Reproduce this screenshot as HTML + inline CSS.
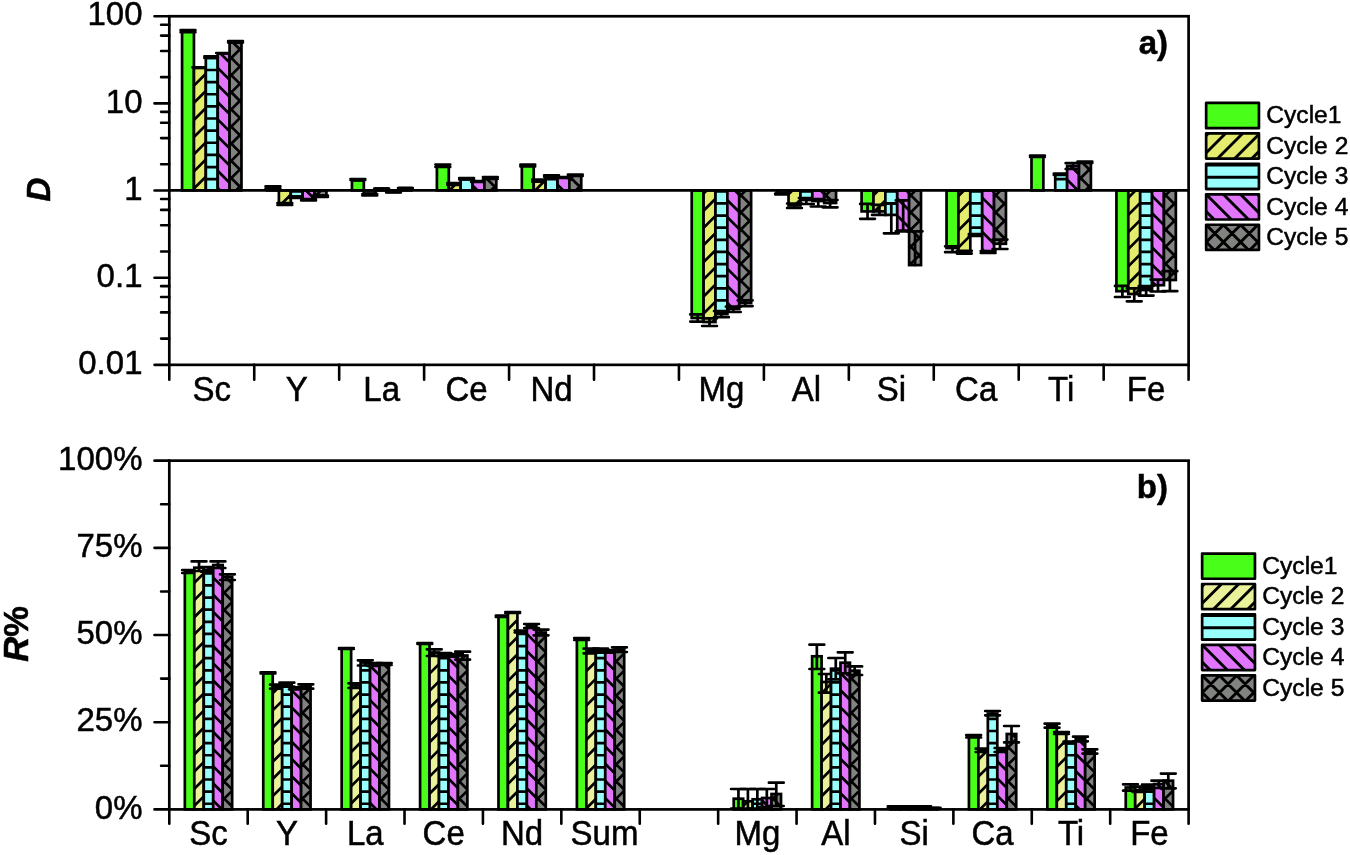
<!DOCTYPE html>
<html><head><meta charset="utf-8"><title>Figure</title>
<style>html,body{margin:0;padding:0;background:#fff}svg{display:block}</style></head>
<body>
<svg width="1350" height="855" viewBox="0 0 1350 855">
<rect width="1350" height="855" fill="#fff"/>
<rect x="182.07" y="31.50" width="11.88" height="158.90" fill="#49fe18"/>
<rect x="182.07" y="31.50" width="11.88" height="158.90" fill="none" stroke="#000" stroke-width="2.7"/>
<path d="M188.01 30.20V32.20M180.61 30.20H195.41M180.61 32.20H195.41" stroke="#000" stroke-width="2.7" fill="none" stroke-linecap="round"/>
<rect x="193.95" y="68.00" width="11.88" height="122.40" fill="#e3ec6c"/>
<clipPath id="a1"><rect x="193.95" y="68.00" width="11.88" height="122.40"/></clipPath>
<path d="M192.95 52.31L206.83 38.43M192.95 69.47L206.83 55.59M192.95 86.62L206.83 72.74M192.95 103.77L206.83 89.89M192.95 120.93L206.83 107.05M192.95 138.08L206.83 124.20M192.95 155.24L206.83 141.36M192.95 172.39L206.83 158.51M192.95 189.55L206.83 175.67M192.95 206.70L206.83 192.82" stroke="#000" stroke-width="2.7" fill="none" clip-path="url(#a1)"/>
<rect x="193.95" y="68.00" width="11.88" height="122.40" fill="none" stroke="#000" stroke-width="2.7"/>
<path d="M199.89 67.30V67.30M192.49 67.30H207.29M192.49 67.30H207.29" stroke="#000" stroke-width="2.7" fill="none" stroke-linecap="round"/>
<rect x="205.83" y="57.60" width="11.88" height="132.80" fill="#99fffc"/>
<clipPath id="a2"><rect x="205.83" y="57.60" width="11.88" height="132.80"/></clipPath>
<path d="M204.83 45.73H218.71M204.83 57.86H218.71M204.83 69.99H218.71M204.83 82.12H218.71M204.83 94.25H218.71M204.83 106.38H218.71M204.83 118.51H218.71M204.83 130.64H218.71M204.83 142.77H218.71M204.83 154.90H218.71M204.83 167.03H218.71M204.83 179.16H218.71M204.83 191.29H218.71" stroke="#000" stroke-width="2.7" fill="none" clip-path="url(#a2)"/>
<rect x="205.83" y="57.60" width="11.88" height="132.80" fill="none" stroke="#000" stroke-width="2.7"/>
<path d="M211.77 56.30V58.00M204.37 56.30H219.17M204.37 58.00H219.17" stroke="#000" stroke-width="2.7" fill="none" stroke-linecap="round"/>
<rect x="217.71" y="53.60" width="11.88" height="136.80" fill="#e176fc"/>
<clipPath id="a3"><rect x="217.71" y="53.60" width="11.88" height="136.80"/></clipPath>
<path d="M216.71 204.11L230.59 217.99M216.71 186.96L230.59 200.84M216.71 169.80L230.59 183.68M216.71 152.65L230.59 166.53M216.71 135.49L230.59 149.37M216.71 118.34L230.59 132.22M216.71 101.18L230.59 115.06M216.71 84.03L230.59 97.91M216.71 66.88L230.59 80.76M216.71 49.72L230.59 63.60M216.71 32.57L230.59 46.45" stroke="#000" stroke-width="2.7" fill="none" clip-path="url(#a3)"/>
<rect x="217.71" y="53.60" width="11.88" height="136.80" fill="none" stroke="#000" stroke-width="2.7"/>
<path d="M223.65 53.00V53.00M216.25 53.00H231.05M216.25 53.00H231.05" stroke="#000" stroke-width="2.7" fill="none" stroke-linecap="round"/>
<rect x="229.59" y="42.30" width="11.88" height="148.10" fill="#818381"/>
<clipPath id="a4"><rect x="229.59" y="42.30" width="11.88" height="148.10"/></clipPath>
<path d="M228.59 192.50L242.47 206.38M228.59 175.34L242.47 189.22M228.59 158.19L242.47 172.07M228.59 141.04L242.47 154.92M228.59 123.88L242.47 137.76M228.59 106.73L242.47 120.61M228.59 89.57L242.47 103.45M228.59 72.42L242.47 86.30M228.59 55.26L242.47 69.14M228.59 38.11L242.47 51.99M228.59 20.95L242.47 34.83M228.59 26.35L242.47 12.47M228.59 43.51L242.47 29.63M228.59 60.66L242.47 46.78M228.59 77.82L242.47 63.94M228.59 94.97L242.47 81.09M228.59 112.13L242.47 98.25M228.59 129.28L242.47 115.40M228.59 146.44L242.47 132.56M228.59 163.59L242.47 149.71M228.59 180.74L242.47 166.86M228.59 197.90L242.47 184.02M228.59 215.05L242.47 201.17" stroke="#000" stroke-width="2.7" fill="none" clip-path="url(#a4)"/>
<rect x="229.59" y="42.30" width="11.88" height="148.10" fill="none" stroke="#000" stroke-width="2.7"/>
<path d="M235.53 41.00V42.60M228.13 41.00H242.93M228.13 42.60H242.93" stroke="#000" stroke-width="2.7" fill="none" stroke-linecap="round"/>
<rect x="267.01" y="187.50" width="11.88" height="2.90" fill="#49fe18"/>
<rect x="267.01" y="187.50" width="11.88" height="2.90" fill="none" stroke="#000" stroke-width="2.7"/>
<path d="M272.95 186.30V188.50M265.55 186.30H280.35M265.55 188.50H280.35" stroke="#000" stroke-width="2.7" fill="none" stroke-linecap="round"/>
<rect x="278.89" y="190.40" width="11.88" height="13.10" fill="#e3ec6c"/>
<clipPath id="a5"><rect x="278.89" y="190.40" width="11.88" height="13.10"/></clipPath>
<path d="M277.89 190.38L291.77 176.50M277.89 207.53L291.77 193.65M277.89 224.69L291.77 210.81" stroke="#000" stroke-width="2.7" fill="none" clip-path="url(#a5)"/>
<rect x="278.89" y="190.40" width="11.88" height="13.10" fill="none" stroke="#000" stroke-width="2.7"/>
<path d="M284.83 203.00V205.00M277.43 203.00H292.23M277.43 205.00H292.23" stroke="#000" stroke-width="2.7" fill="none" stroke-linecap="round"/>
<rect x="290.77" y="190.40" width="11.88" height="6.10" fill="#99fffc"/>
<clipPath id="a6"><rect x="290.77" y="190.40" width="11.88" height="6.10"/></clipPath>
<path d="M289.77 179.16H303.65M289.77 191.29H303.65M289.77 203.42H303.65" stroke="#000" stroke-width="2.7" fill="none" clip-path="url(#a6)"/>
<rect x="290.77" y="190.40" width="11.88" height="6.10" fill="none" stroke="#000" stroke-width="2.7"/>
<path d="M296.71 196.50V198.00M289.31 196.50H304.11M289.31 198.00H304.11" stroke="#000" stroke-width="2.7" fill="none" stroke-linecap="round"/>
<rect x="302.65" y="190.40" width="11.88" height="9.10" fill="#e176fc"/>
<clipPath id="a7"><rect x="302.65" y="190.40" width="11.88" height="9.10"/></clipPath>
<path d="M301.65 203.28L315.53 217.16M301.65 186.13L315.53 200.01M301.65 168.97L315.53 182.85" stroke="#000" stroke-width="2.7" fill="none" clip-path="url(#a7)"/>
<rect x="302.65" y="190.40" width="11.88" height="9.10" fill="none" stroke="#000" stroke-width="2.7"/>
<path d="M308.59 199.00V200.50M301.19 199.00H315.99M301.19 200.50H315.99" stroke="#000" stroke-width="2.7" fill="none" stroke-linecap="round"/>
<rect x="314.53" y="190.40" width="11.88" height="5.10" fill="#818381"/>
<clipPath id="a8"><rect x="314.53" y="190.40" width="11.88" height="5.10"/></clipPath>
<path d="M313.53 209.65L327.41 223.53M313.53 192.50L327.41 206.38M313.53 175.34L327.41 189.22M313.53 180.74L327.41 166.86M313.53 197.90L327.41 184.02M313.53 215.05L327.41 201.17" stroke="#000" stroke-width="2.7" fill="none" clip-path="url(#a8)"/>
<rect x="314.53" y="190.40" width="11.88" height="5.10" fill="none" stroke="#000" stroke-width="2.7"/>
<path d="M320.47 195.50V197.00M313.07 195.50H327.87M313.07 197.00H327.87" stroke="#000" stroke-width="2.7" fill="none" stroke-linecap="round"/>
<rect x="351.95" y="180.50" width="11.88" height="9.90" fill="#49fe18"/>
<rect x="351.95" y="180.50" width="11.88" height="9.90" fill="none" stroke="#000" stroke-width="2.7"/>
<path d="M357.89 179.00V180.00M350.49 179.00H365.29M350.49 180.00H365.29" stroke="#000" stroke-width="2.7" fill="none" stroke-linecap="round"/>
<rect x="363.83" y="190.40" width="11.88" height="3.10" fill="#e3ec6c"/>
<clipPath id="a9"><rect x="363.83" y="190.40" width="11.88" height="3.10"/></clipPath>
<path d="M362.83 191.21L376.71 177.33M362.83 208.36L376.71 194.48" stroke="#000" stroke-width="2.7" fill="none" clip-path="url(#a9)"/>
<rect x="363.83" y="190.40" width="11.88" height="3.10" fill="none" stroke="#000" stroke-width="2.7"/>
<path d="M369.77 194.00V195.50M362.37 194.00H377.17M362.37 195.50H377.17" stroke="#000" stroke-width="2.7" fill="none" stroke-linecap="round"/>
<rect x="375.71" y="188.50" width="11.88" height="1.90" fill="#99fffc"/>
<clipPath id="a10"><rect x="375.71" y="188.50" width="11.88" height="1.90"/></clipPath>
<path d="M374.71 179.16H388.59M374.71 191.29H388.59" stroke="#000" stroke-width="2.7" fill="none" clip-path="url(#a10)"/>
<rect x="375.71" y="188.50" width="11.88" height="1.90" fill="none" stroke="#000" stroke-width="2.7"/>
<path d="M381.65 188.50V189.50M374.25 188.50H389.05M374.25 189.50H389.05" stroke="#000" stroke-width="2.7" fill="none" stroke-linecap="round"/>
<rect x="387.59" y="190.40" width="11.88" height="1.60" fill="#e176fc"/>
<clipPath id="a11"><rect x="387.59" y="190.40" width="11.88" height="1.60"/></clipPath>
<path d="M386.59 202.45L400.47 216.33M386.59 185.30L400.47 199.18M386.59 168.14L400.47 182.02" stroke="#000" stroke-width="2.7" fill="none" clip-path="url(#a11)"/>
<rect x="387.59" y="190.40" width="11.88" height="1.60" fill="none" stroke="#000" stroke-width="2.7"/>
<path d="M393.53 191.50V192.50M386.13 191.50H400.93M386.13 192.50H400.93" stroke="#000" stroke-width="2.7" fill="none" stroke-linecap="round"/>
<rect x="399.47" y="188.00" width="11.88" height="2.40" fill="#818381"/>
<clipPath id="a12"><rect x="399.47" y="188.00" width="11.88" height="2.40"/></clipPath>
<path d="M398.47 192.50L412.35 206.38M398.47 175.34L412.35 189.22M398.47 158.19L412.35 172.07M398.47 180.74L412.35 166.86M398.47 197.90L412.35 184.02M398.47 215.05L412.35 201.17" stroke="#000" stroke-width="2.7" fill="none" clip-path="url(#a12)"/>
<rect x="399.47" y="188.00" width="11.88" height="2.40" fill="none" stroke="#000" stroke-width="2.7"/>
<path d="M405.41 188.00V189.00M398.01 188.00H412.81M398.01 189.00H412.81" stroke="#000" stroke-width="2.7" fill="none" stroke-linecap="round"/>
<rect x="436.90" y="166.00" width="11.88" height="24.40" fill="#49fe18"/>
<rect x="436.90" y="166.00" width="11.88" height="24.40" fill="none" stroke="#000" stroke-width="2.7"/>
<path d="M442.84 164.50V167.00M435.44 164.50H450.24M435.44 167.00H450.24" stroke="#000" stroke-width="2.7" fill="none" stroke-linecap="round"/>
<rect x="448.78" y="184.00" width="11.88" height="6.40" fill="#e3ec6c"/>
<clipPath id="a13"><rect x="448.78" y="184.00" width="11.88" height="6.40"/></clipPath>
<path d="M447.78 174.88L461.66 161.00M447.78 192.04L461.66 178.16M447.78 209.19L461.66 195.31" stroke="#000" stroke-width="2.7" fill="none" clip-path="url(#a13)"/>
<rect x="448.78" y="184.00" width="11.88" height="6.40" fill="none" stroke="#000" stroke-width="2.7"/>
<path d="M454.72 183.00V184.80M447.32 183.00H462.12M447.32 184.80H462.12" stroke="#000" stroke-width="2.7" fill="none" stroke-linecap="round"/>
<rect x="460.66" y="179.00" width="11.88" height="11.40" fill="#99fffc"/>
<clipPath id="a14"><rect x="460.66" y="179.00" width="11.88" height="11.40"/></clipPath>
<path d="M459.66 167.03H473.54M459.66 179.16H473.54M459.66 191.29H473.54" stroke="#000" stroke-width="2.7" fill="none" clip-path="url(#a14)"/>
<rect x="460.66" y="179.00" width="11.88" height="11.40" fill="none" stroke="#000" stroke-width="2.7"/>
<path d="M466.60 178.00V179.50M459.20 178.00H474.00M459.20 179.50H474.00" stroke="#000" stroke-width="2.7" fill="none" stroke-linecap="round"/>
<rect x="472.54" y="181.50" width="11.88" height="8.90" fill="#e176fc"/>
<clipPath id="a15"><rect x="472.54" y="181.50" width="11.88" height="8.90"/></clipPath>
<path d="M471.54 201.62L485.42 215.50M471.54 184.47L485.42 198.35M471.54 167.31L485.42 181.19" stroke="#000" stroke-width="2.7" fill="none" clip-path="url(#a15)"/>
<rect x="472.54" y="181.50" width="11.88" height="8.90" fill="none" stroke="#000" stroke-width="2.7"/>
<path d="M478.48 181.00V182.00M471.08 181.00H485.88M471.08 182.00H485.88" stroke="#000" stroke-width="2.7" fill="none" stroke-linecap="round"/>
<rect x="484.42" y="178.00" width="11.88" height="12.40" fill="#818381"/>
<clipPath id="a16"><rect x="484.42" y="178.00" width="11.88" height="12.40"/></clipPath>
<path d="M483.42 192.50L497.30 206.38M483.42 175.34L497.30 189.22M483.42 158.19L497.30 172.07M483.42 163.59L497.30 149.71M483.42 180.74L497.30 166.86M483.42 197.90L497.30 184.02M483.42 215.05L497.30 201.17" stroke="#000" stroke-width="2.7" fill="none" clip-path="url(#a16)"/>
<rect x="484.42" y="178.00" width="11.88" height="12.40" fill="none" stroke="#000" stroke-width="2.7"/>
<path d="M490.36 177.00V179.00M482.96 177.00H497.76M482.96 179.00H497.76" stroke="#000" stroke-width="2.7" fill="none" stroke-linecap="round"/>
<rect x="521.84" y="165.70" width="11.88" height="24.70" fill="#49fe18"/>
<rect x="521.84" y="165.70" width="11.88" height="24.70" fill="none" stroke="#000" stroke-width="2.7"/>
<path d="M527.78 164.70V166.50M520.38 164.70H535.18M520.38 166.50H535.18" stroke="#000" stroke-width="2.7" fill="none" stroke-linecap="round"/>
<rect x="533.72" y="180.70" width="11.88" height="9.70" fill="#e3ec6c"/>
<clipPath id="a17"><rect x="533.72" y="180.70" width="11.88" height="9.70"/></clipPath>
<path d="M532.72 175.71L546.60 161.83M532.72 192.87L546.60 178.99M532.72 210.02L546.60 196.14" stroke="#000" stroke-width="2.7" fill="none" clip-path="url(#a17)"/>
<rect x="533.72" y="180.70" width="11.88" height="9.70" fill="none" stroke="#000" stroke-width="2.7"/>
<path d="M539.66 179.70V181.70M532.26 179.70H547.06M532.26 181.70H547.06" stroke="#000" stroke-width="2.7" fill="none" stroke-linecap="round"/>
<rect x="545.60" y="176.00" width="11.88" height="14.40" fill="#99fffc"/>
<clipPath id="a18"><rect x="545.60" y="176.00" width="11.88" height="14.40"/></clipPath>
<path d="M544.60 167.03H558.48M544.60 179.16H558.48M544.60 191.29H558.48" stroke="#000" stroke-width="2.7" fill="none" clip-path="url(#a18)"/>
<rect x="545.60" y="176.00" width="11.88" height="14.40" fill="none" stroke="#000" stroke-width="2.7"/>
<path d="M551.54 175.30V176.70M544.14 175.30H558.94M544.14 176.70H558.94" stroke="#000" stroke-width="2.7" fill="none" stroke-linecap="round"/>
<rect x="557.48" y="177.50" width="11.88" height="12.90" fill="#e176fc"/>
<clipPath id="a19"><rect x="557.48" y="177.50" width="11.88" height="12.90"/></clipPath>
<path d="M556.48 200.79L570.36 214.67M556.48 183.63L570.36 197.51M556.48 166.48L570.36 180.36M556.48 149.33L570.36 163.21" stroke="#000" stroke-width="2.7" fill="none" clip-path="url(#a19)"/>
<rect x="557.48" y="177.50" width="11.88" height="12.90" fill="none" stroke="#000" stroke-width="2.7"/>
<path d="M563.42 177.00V178.00M556.02 177.00H570.82M556.02 178.00H570.82" stroke="#000" stroke-width="2.7" fill="none" stroke-linecap="round"/>
<rect x="569.36" y="175.50" width="11.88" height="14.90" fill="#818381"/>
<clipPath id="a20"><rect x="569.36" y="175.50" width="11.88" height="14.90"/></clipPath>
<path d="M568.36 192.50L582.24 206.38M568.36 175.34L582.24 189.22M568.36 158.19L582.24 172.07M568.36 163.59L582.24 149.71M568.36 180.74L582.24 166.86M568.36 197.90L582.24 184.02M568.36 215.05L582.24 201.17" stroke="#000" stroke-width="2.7" fill="none" clip-path="url(#a20)"/>
<rect x="569.36" y="175.50" width="11.88" height="14.90" fill="none" stroke="#000" stroke-width="2.7"/>
<path d="M575.30 174.70V176.00M567.90 174.70H582.70M567.90 176.00H582.70" stroke="#000" stroke-width="2.7" fill="none" stroke-linecap="round"/>
<rect x="691.72" y="190.40" width="11.88" height="127.60" fill="#49fe18"/>
<rect x="691.72" y="190.40" width="11.88" height="127.60" fill="none" stroke="#000" stroke-width="2.7"/>
<path d="M697.66 314.40V321.60M690.26 314.40H705.06M690.26 321.60H705.06" stroke="#000" stroke-width="2.7" fill="none" stroke-linecap="round"/>
<rect x="703.60" y="190.40" width="11.88" height="131.60" fill="#e3ec6c"/>
<clipPath id="a21"><rect x="703.60" y="190.40" width="11.88" height="131.60"/></clipPath>
<path d="M702.60 177.37L716.48 163.49M702.60 194.53L716.48 180.65M702.60 211.68L716.48 197.80M702.60 228.84L716.48 214.96M702.60 245.99L716.48 232.11M702.60 263.15L716.48 249.27M702.60 280.30L716.48 266.42M702.60 297.45L716.48 283.57M702.60 314.61L716.48 300.73M702.60 331.76L716.48 317.88M702.60 348.92L716.48 335.04" stroke="#000" stroke-width="2.7" fill="none" clip-path="url(#a21)"/>
<rect x="703.60" y="190.40" width="11.88" height="131.60" fill="none" stroke="#000" stroke-width="2.7"/>
<path d="M709.54 318.30V326.00M702.14 318.30H716.94M702.14 326.00H716.94" stroke="#000" stroke-width="2.7" fill="none" stroke-linecap="round"/>
<rect x="715.48" y="190.40" width="11.88" height="123.60" fill="#99fffc"/>
<clipPath id="a22"><rect x="715.48" y="190.40" width="11.88" height="123.60"/></clipPath>
<path d="M714.48 179.16H728.36M714.48 191.29H728.36M714.48 203.42H728.36M714.48 215.55H728.36M714.48 227.68H728.36M714.48 239.81H728.36M714.48 251.94H728.36M714.48 264.07H728.36M714.48 276.20H728.36M714.48 288.33H728.36M714.48 300.46H728.36M714.48 312.59H728.36M714.48 324.72H728.36" stroke="#000" stroke-width="2.7" fill="none" clip-path="url(#a22)"/>
<rect x="715.48" y="190.40" width="11.88" height="123.60" fill="none" stroke="#000" stroke-width="2.7"/>
<path d="M721.42 311.00V317.20M714.02 311.00H728.82M714.02 317.20H728.82" stroke="#000" stroke-width="2.7" fill="none" stroke-linecap="round"/>
<rect x="727.36" y="190.40" width="11.88" height="118.60" fill="#e176fc"/>
<clipPath id="a23"><rect x="727.36" y="190.40" width="11.88" height="118.60"/></clipPath>
<path d="M726.36 319.21L740.24 333.09M726.36 302.05L740.24 315.93M726.36 284.90L740.24 298.78M726.36 267.75L740.24 281.63M726.36 250.59L740.24 264.47M726.36 233.44L740.24 247.32M726.36 216.28L740.24 230.16M726.36 199.13L740.24 213.01M726.36 181.97L740.24 195.85M726.36 164.82L740.24 178.70" stroke="#000" stroke-width="2.7" fill="none" clip-path="url(#a23)"/>
<rect x="727.36" y="190.40" width="11.88" height="118.60" fill="none" stroke="#000" stroke-width="2.7"/>
<path d="M733.30 306.70V312.00M725.90 306.70H740.70M725.90 312.00H740.70" stroke="#000" stroke-width="2.7" fill="none" stroke-linecap="round"/>
<rect x="739.24" y="190.40" width="11.88" height="112.60" fill="#818381"/>
<clipPath id="a24"><rect x="739.24" y="190.40" width="11.88" height="112.60"/></clipPath>
<path d="M738.24 312.58L752.12 326.46M738.24 295.42L752.12 309.30M738.24 278.27L752.12 292.15M738.24 261.12L752.12 275.00M738.24 243.96L752.12 257.84M738.24 226.81L752.12 240.69M738.24 209.65L752.12 223.53M738.24 192.50L752.12 206.38M738.24 175.34L752.12 189.22M738.24 180.74L752.12 166.86M738.24 197.90L752.12 184.02M738.24 215.05L752.12 201.17M738.24 232.21L752.12 218.33M738.24 249.36L752.12 235.48M738.24 266.52L752.12 252.64M738.24 283.67L752.12 269.79M738.24 300.82L752.12 286.94M738.24 317.98L752.12 304.10" stroke="#000" stroke-width="2.7" fill="none" clip-path="url(#a24)"/>
<rect x="739.24" y="190.40" width="11.88" height="112.60" fill="none" stroke="#000" stroke-width="2.7"/>
<path d="M745.18 300.40V306.10M737.78 300.40H752.58M737.78 306.10H752.58" stroke="#000" stroke-width="2.7" fill="none" stroke-linecap="round"/>
<rect x="776.66" y="190.40" width="11.88" height="3.10" fill="#49fe18"/>
<rect x="776.66" y="190.40" width="11.88" height="3.10" fill="none" stroke="#000" stroke-width="2.7"/>
<path d="M782.60 193.50V194.50M775.20 193.50H790.00M775.20 194.50H790.00" stroke="#000" stroke-width="2.7" fill="none" stroke-linecap="round"/>
<rect x="788.54" y="190.40" width="11.88" height="15.10" fill="#e3ec6c"/>
<clipPath id="a25"><rect x="788.54" y="190.40" width="11.88" height="15.10"/></clipPath>
<path d="M787.54 178.20L801.42 164.32M787.54 195.36L801.42 181.48M787.54 212.51L801.42 198.63M787.54 229.67L801.42 215.79" stroke="#000" stroke-width="2.7" fill="none" clip-path="url(#a25)"/>
<rect x="788.54" y="190.40" width="11.88" height="15.10" fill="none" stroke="#000" stroke-width="2.7"/>
<path d="M794.48 203.50V208.00M787.08 203.50H801.88M787.08 208.00H801.88" stroke="#000" stroke-width="2.7" fill="none" stroke-linecap="round"/>
<rect x="800.42" y="190.40" width="11.88" height="9.60" fill="#99fffc"/>
<clipPath id="a26"><rect x="800.42" y="190.40" width="11.88" height="9.60"/></clipPath>
<path d="M799.42 179.16H813.30M799.42 191.29H813.30M799.42 203.42H813.30" stroke="#000" stroke-width="2.7" fill="none" clip-path="url(#a26)"/>
<rect x="800.42" y="190.40" width="11.88" height="9.60" fill="none" stroke="#000" stroke-width="2.7"/>
<path d="M806.36 198.00V204.00M798.96 198.00H813.76M798.96 204.00H813.76" stroke="#000" stroke-width="2.7" fill="none" stroke-linecap="round"/>
<rect x="812.30" y="190.40" width="11.88" height="10.60" fill="#e176fc"/>
<clipPath id="a27"><rect x="812.30" y="190.40" width="11.88" height="10.60"/></clipPath>
<path d="M811.30 215.45L825.18 229.33M811.30 198.30L825.18 212.18M811.30 181.14L825.18 195.02M811.30 163.99L825.18 177.87" stroke="#000" stroke-width="2.7" fill="none" clip-path="url(#a27)"/>
<rect x="812.30" y="190.40" width="11.88" height="10.60" fill="none" stroke="#000" stroke-width="2.7"/>
<path d="M818.24 199.00V206.50M810.84 199.00H825.64M810.84 206.50H825.64" stroke="#000" stroke-width="2.7" fill="none" stroke-linecap="round"/>
<rect x="824.18" y="190.40" width="11.88" height="12.60" fill="#818381"/>
<clipPath id="a28"><rect x="824.18" y="190.40" width="11.88" height="12.60"/></clipPath>
<path d="M823.18 209.65L837.06 223.53M823.18 192.50L837.06 206.38M823.18 175.34L837.06 189.22M823.18 180.74L837.06 166.86M823.18 197.90L837.06 184.02M823.18 215.05L837.06 201.17M823.18 232.21L837.06 218.33" stroke="#000" stroke-width="2.7" fill="none" clip-path="url(#a28)"/>
<rect x="824.18" y="190.40" width="11.88" height="12.60" fill="none" stroke="#000" stroke-width="2.7"/>
<path d="M830.12 200.00V207.30M822.72 200.00H837.52M822.72 207.30H837.52" stroke="#000" stroke-width="2.7" fill="none" stroke-linecap="round"/>
<rect x="861.60" y="190.40" width="11.88" height="21.00" fill="#49fe18"/>
<rect x="861.60" y="190.40" width="11.88" height="21.00" fill="none" stroke="#000" stroke-width="2.7"/>
<path d="M867.54 203.90V218.80M860.14 203.90H874.94M860.14 218.80H874.94" stroke="#000" stroke-width="2.7" fill="none" stroke-linecap="round"/>
<rect x="873.48" y="190.40" width="11.88" height="21.00" fill="#e3ec6c"/>
<clipPath id="a29"><rect x="873.48" y="190.40" width="11.88" height="21.00"/></clipPath>
<path d="M872.48 179.03L886.36 165.15M872.48 196.19L886.36 182.31M872.48 213.34L886.36 199.46M872.48 230.50L886.36 216.62" stroke="#000" stroke-width="2.7" fill="none" clip-path="url(#a29)"/>
<rect x="873.48" y="190.40" width="11.88" height="21.00" fill="none" stroke="#000" stroke-width="2.7"/>
<path d="M879.42 204.90V214.90M872.02 204.90H886.82M872.02 214.90H886.82" stroke="#000" stroke-width="2.7" fill="none" stroke-linecap="round"/>
<rect x="885.36" y="190.40" width="11.88" height="24.50" fill="#99fffc"/>
<clipPath id="a30"><rect x="885.36" y="190.40" width="11.88" height="24.50"/></clipPath>
<path d="M884.36 179.16H898.24M884.36 191.29H898.24M884.36 203.42H898.24M884.36 215.55H898.24" stroke="#000" stroke-width="2.7" fill="none" clip-path="url(#a30)"/>
<rect x="885.36" y="190.40" width="11.88" height="24.50" fill="none" stroke="#000" stroke-width="2.7"/>
<path d="M891.30 203.40V233.30M883.90 203.40H898.70M883.90 233.30H898.70" stroke="#000" stroke-width="2.7" fill="none" stroke-linecap="round"/>
<rect x="897.24" y="190.40" width="11.88" height="40.20" fill="#e176fc"/>
<clipPath id="a31"><rect x="897.24" y="190.40" width="11.88" height="40.20"/></clipPath>
<path d="M896.24 231.78L910.12 245.66M896.24 214.62L910.12 228.50M896.24 197.47L910.12 211.35M896.24 180.31L910.12 194.19M896.24 163.16L910.12 177.04" stroke="#000" stroke-width="2.7" fill="none" clip-path="url(#a31)"/>
<rect x="897.24" y="190.40" width="11.88" height="40.20" fill="none" stroke="#000" stroke-width="2.7"/>
<path d="M903.18 200.40V231.30M895.78 200.40H910.58M895.78 231.30H910.58" stroke="#000" stroke-width="2.7" fill="none" stroke-linecap="round"/>
<rect x="909.12" y="190.40" width="11.88" height="74.70" fill="#818381"/>
<clipPath id="a32"><rect x="909.12" y="190.40" width="11.88" height="74.70"/></clipPath>
<path d="M908.12 278.27L922.00 292.15M908.12 261.12L922.00 275.00M908.12 243.96L922.00 257.84M908.12 226.81L922.00 240.69M908.12 209.65L922.00 223.53M908.12 192.50L922.00 206.38M908.12 175.34L922.00 189.22M908.12 180.74L922.00 166.86M908.12 197.90L922.00 184.02M908.12 215.05L922.00 201.17M908.12 232.21L922.00 218.33M908.12 249.36L922.00 235.48M908.12 266.52L922.00 252.64M908.12 283.67L922.00 269.79" stroke="#000" stroke-width="2.7" fill="none" clip-path="url(#a32)"/>
<rect x="909.12" y="190.40" width="11.88" height="74.70" fill="none" stroke="#000" stroke-width="2.7"/>
<path d="M915.06 231.30V265.10M907.66 231.30H922.46" stroke="#000" stroke-width="2.7" fill="none" stroke-linecap="round"/>
<rect x="946.55" y="190.40" width="11.88" height="57.60" fill="#49fe18"/>
<rect x="946.55" y="190.40" width="11.88" height="57.60" fill="none" stroke="#000" stroke-width="2.7"/>
<path d="M952.49 246.30V252.20M945.09 246.30H959.89M945.09 252.20H959.89" stroke="#000" stroke-width="2.7" fill="none" stroke-linecap="round"/>
<rect x="958.43" y="190.40" width="11.88" height="61.60" fill="#e3ec6c"/>
<clipPath id="a33"><rect x="958.43" y="190.40" width="11.88" height="61.60"/></clipPath>
<path d="M957.43 179.87L971.31 165.99M957.43 197.02L971.31 183.14M957.43 214.17L971.31 200.29M957.43 231.33L971.31 217.45M957.43 248.48L971.31 234.60M957.43 265.64L971.31 251.76" stroke="#000" stroke-width="2.7" fill="none" clip-path="url(#a33)"/>
<rect x="958.43" y="190.40" width="11.88" height="61.60" fill="none" stroke="#000" stroke-width="2.7"/>
<path d="M964.37 250.80V253.60M956.97 250.80H971.77M956.97 253.60H971.77" stroke="#000" stroke-width="2.7" fill="none" stroke-linecap="round"/>
<rect x="970.31" y="190.40" width="11.88" height="44.30" fill="#99fffc"/>
<clipPath id="a34"><rect x="970.31" y="190.40" width="11.88" height="44.30"/></clipPath>
<path d="M969.31 179.16H983.19M969.31 191.29H983.19M969.31 203.42H983.19M969.31 215.55H983.19M969.31 227.68H983.19M969.31 239.81H983.19" stroke="#000" stroke-width="2.7" fill="none" clip-path="url(#a34)"/>
<rect x="970.31" y="190.40" width="11.88" height="44.30" fill="none" stroke="#000" stroke-width="2.7"/>
<path d="M976.25 234.00V236.00M968.85 234.00H983.65M968.85 236.00H983.65" stroke="#000" stroke-width="2.7" fill="none" stroke-linecap="round"/>
<rect x="982.19" y="190.40" width="11.88" height="61.10" fill="#e176fc"/>
<clipPath id="a35"><rect x="982.19" y="190.40" width="11.88" height="61.10"/></clipPath>
<path d="M981.19 265.26L995.07 279.14M981.19 248.10L995.07 261.98M981.19 230.95L995.07 244.83M981.19 213.79L995.07 227.67M981.19 196.64L995.07 210.52M981.19 179.48L995.07 193.36M981.19 162.33L995.07 176.21" stroke="#000" stroke-width="2.7" fill="none" clip-path="url(#a35)"/>
<rect x="982.19" y="190.40" width="11.88" height="61.10" fill="none" stroke="#000" stroke-width="2.7"/>
<path d="M988.13 251.00V253.00M980.73 251.00H995.53M980.73 253.00H995.53" stroke="#000" stroke-width="2.7" fill="none" stroke-linecap="round"/>
<rect x="994.07" y="190.40" width="11.88" height="53.40" fill="#818381"/>
<clipPath id="a36"><rect x="994.07" y="190.40" width="11.88" height="53.40"/></clipPath>
<path d="M993.07 243.96L1006.95 257.84M993.07 226.81L1006.95 240.69M993.07 209.65L1006.95 223.53M993.07 192.50L1006.95 206.38M993.07 175.34L1006.95 189.22M993.07 180.74L1006.95 166.86M993.07 197.90L1006.95 184.02M993.07 215.05L1006.95 201.17M993.07 232.21L1006.95 218.33M993.07 249.36L1006.95 235.48M993.07 266.52L1006.95 252.64" stroke="#000" stroke-width="2.7" fill="none" clip-path="url(#a36)"/>
<rect x="994.07" y="190.40" width="11.88" height="53.40" fill="none" stroke="#000" stroke-width="2.7"/>
<path d="M1000.01 239.60V249.00M992.61 239.60H1007.41M992.61 249.00H1007.41" stroke="#000" stroke-width="2.7" fill="none" stroke-linecap="round"/>
<rect x="1031.49" y="156.50" width="11.88" height="33.90" fill="#49fe18"/>
<rect x="1031.49" y="156.50" width="11.88" height="33.90" fill="none" stroke="#000" stroke-width="2.7"/>
<path d="M1037.43 155.50V157.00M1030.03 155.50H1044.83M1030.03 157.00H1044.83" stroke="#000" stroke-width="2.7" fill="none" stroke-linecap="round"/>
<rect x="1055.25" y="174.50" width="11.88" height="15.90" fill="#99fffc"/>
<clipPath id="a37"><rect x="1055.25" y="174.50" width="11.88" height="15.90"/></clipPath>
<path d="M1054.25 167.03H1068.13M1054.25 179.16H1068.13M1054.25 191.29H1068.13" stroke="#000" stroke-width="2.7" fill="none" clip-path="url(#a37)"/>
<rect x="1055.25" y="174.50" width="11.88" height="15.90" fill="none" stroke="#000" stroke-width="2.7"/>
<path d="M1061.19 173.50V175.00M1053.79 173.50H1068.59M1053.79 175.00H1068.59" stroke="#000" stroke-width="2.7" fill="none" stroke-linecap="round"/>
<rect x="1067.13" y="166.00" width="11.88" height="24.40" fill="#e176fc"/>
<clipPath id="a38"><rect x="1067.13" y="166.00" width="11.88" height="24.40"/></clipPath>
<path d="M1066.13 195.81L1080.01 209.69M1066.13 178.65L1080.01 192.53M1066.13 161.50L1080.01 175.38M1066.13 144.34L1080.01 158.22" stroke="#000" stroke-width="2.7" fill="none" clip-path="url(#a38)"/>
<rect x="1067.13" y="166.00" width="11.88" height="24.40" fill="none" stroke="#000" stroke-width="2.7"/>
<path d="M1073.07 163.20V169.00M1065.67 163.20H1080.47M1065.67 169.00H1080.47" stroke="#000" stroke-width="2.7" fill="none" stroke-linecap="round"/>
<rect x="1079.01" y="162.50" width="11.88" height="27.90" fill="#818381"/>
<clipPath id="a39"><rect x="1079.01" y="162.50" width="11.88" height="27.90"/></clipPath>
<path d="M1078.01 192.50L1091.89 206.38M1078.01 175.34L1091.89 189.22M1078.01 158.19L1091.89 172.07M1078.01 141.04L1091.89 154.92M1078.01 146.44L1091.89 132.56M1078.01 163.59L1091.89 149.71M1078.01 180.74L1091.89 166.86M1078.01 197.90L1091.89 184.02M1078.01 215.05L1091.89 201.17" stroke="#000" stroke-width="2.7" fill="none" clip-path="url(#a39)"/>
<rect x="1079.01" y="162.50" width="11.88" height="27.90" fill="none" stroke="#000" stroke-width="2.7"/>
<path d="M1084.95 161.50V163.00M1077.55 161.50H1092.35M1077.55 163.00H1092.35" stroke="#000" stroke-width="2.7" fill="none" stroke-linecap="round"/>
<rect x="1116.43" y="190.40" width="11.88" height="100.80" fill="#49fe18"/>
<rect x="1116.43" y="190.40" width="11.88" height="100.80" fill="none" stroke="#000" stroke-width="2.7"/>
<path d="M1122.37 285.90V297.00M1114.97 285.90H1129.77M1114.97 297.00H1129.77" stroke="#000" stroke-width="2.7" fill="none" stroke-linecap="round"/>
<rect x="1128.31" y="190.40" width="11.88" height="103.60" fill="#e3ec6c"/>
<clipPath id="a40"><rect x="1128.31" y="190.40" width="11.88" height="103.60"/></clipPath>
<path d="M1127.31 181.53L1141.19 167.65M1127.31 198.68L1141.19 184.80M1127.31 215.83L1141.19 201.95M1127.31 232.99L1141.19 219.11M1127.31 250.14L1141.19 236.26M1127.31 267.30L1141.19 253.42M1127.31 284.45L1141.19 270.57M1127.31 301.61L1141.19 287.73M1127.31 318.76L1141.19 304.88" stroke="#000" stroke-width="2.7" fill="none" clip-path="url(#a40)"/>
<rect x="1128.31" y="190.40" width="11.88" height="103.60" fill="none" stroke="#000" stroke-width="2.7"/>
<path d="M1134.25 288.40V301.30M1126.85 288.40H1141.65M1126.85 301.30H1141.65" stroke="#000" stroke-width="2.7" fill="none" stroke-linecap="round"/>
<rect x="1140.19" y="190.40" width="11.88" height="99.60" fill="#99fffc"/>
<clipPath id="a41"><rect x="1140.19" y="190.40" width="11.88" height="99.60"/></clipPath>
<path d="M1139.19 179.16H1153.07M1139.19 191.29H1153.07M1139.19 203.42H1153.07M1139.19 215.55H1153.07M1139.19 227.68H1153.07M1139.19 239.81H1153.07M1139.19 251.94H1153.07M1139.19 264.07H1153.07M1139.19 276.20H1153.07M1139.19 288.33H1153.07M1139.19 300.46H1153.07" stroke="#000" stroke-width="2.7" fill="none" clip-path="url(#a41)"/>
<rect x="1140.19" y="190.40" width="11.88" height="99.60" fill="none" stroke="#000" stroke-width="2.7"/>
<path d="M1146.13 286.00V295.60M1138.73 286.00H1153.53M1138.73 295.60H1153.53" stroke="#000" stroke-width="2.7" fill="none" stroke-linecap="round"/>
<rect x="1152.07" y="190.40" width="11.88" height="94.80" fill="#e176fc"/>
<clipPath id="a42"><rect x="1152.07" y="190.40" width="11.88" height="94.80"/></clipPath>
<path d="M1151.07 297.90L1164.95 311.78M1151.07 280.75L1164.95 294.63M1151.07 263.59L1164.95 277.47M1151.07 246.44L1164.95 260.32M1151.07 229.29L1164.95 243.17M1151.07 212.13L1164.95 226.01M1151.07 194.98L1164.95 208.86M1151.07 177.82L1164.95 191.70M1151.07 160.67L1164.95 174.55" stroke="#000" stroke-width="2.7" fill="none" clip-path="url(#a42)"/>
<rect x="1152.07" y="190.40" width="11.88" height="94.80" fill="none" stroke="#000" stroke-width="2.7"/>
<path d="M1158.01 279.60V291.50M1150.61 279.60H1165.41M1150.61 291.50H1165.41" stroke="#000" stroke-width="2.7" fill="none" stroke-linecap="round"/>
<rect x="1163.95" y="190.40" width="11.88" height="89.60" fill="#818381"/>
<clipPath id="a43"><rect x="1163.95" y="190.40" width="11.88" height="89.60"/></clipPath>
<path d="M1162.95 295.42L1176.83 309.30M1162.95 278.27L1176.83 292.15M1162.95 261.12L1176.83 275.00M1162.95 243.96L1176.83 257.84M1162.95 226.81L1176.83 240.69M1162.95 209.65L1176.83 223.53M1162.95 192.50L1176.83 206.38M1162.95 175.34L1176.83 189.22M1162.95 180.74L1176.83 166.86M1162.95 197.90L1176.83 184.02M1162.95 215.05L1176.83 201.17M1162.95 232.21L1176.83 218.33M1162.95 249.36L1176.83 235.48M1162.95 266.52L1176.83 252.64M1162.95 283.67L1176.83 269.79M1162.95 300.82L1176.83 286.94" stroke="#000" stroke-width="2.7" fill="none" clip-path="url(#a43)"/>
<rect x="1163.95" y="190.40" width="11.88" height="89.60" fill="none" stroke="#000" stroke-width="2.7"/>
<path d="M1169.89 271.20V291.20M1162.49 271.20H1177.29M1162.49 291.20H1177.29" stroke="#000" stroke-width="2.7" fill="none" stroke-linecap="round"/>
<rect x="169.3" y="16.25" width="1019.3" height="348.6" fill="none" stroke="#000" stroke-width="2.7"/>
<line x1="169.3" x2="1188.6" y1="190.4" y2="190.4" stroke="#000" stroke-width="2.6"/>
<path d="M154.5 16.25H169.3M161.1 77.17H169.3M161.1 50.93H169.3M161.1 35.58H169.3M161.1 24.70H169.3M154.5 103.40H169.3M161.1 164.32H169.3M161.1 138.08H169.3M161.1 122.73H169.3M161.1 111.85H169.3M154.5 190.55H169.3M161.1 251.47H169.3M161.1 225.23H169.3M161.1 209.88H169.3M161.1 199.00H169.3M154.5 277.70H169.3M161.1 338.62H169.3M161.1 312.38H169.3M161.1 297.03H169.3M161.1 286.15H169.3M154.5 364.85H169.3M169.30 364.85V379.65000000000003M254.24 364.85V379.65000000000003M339.18 364.85V379.65000000000003M424.12 364.85V379.65000000000003M509.07 364.85V379.65000000000003M594.01 364.85V379.65000000000003M678.95 364.85V379.65000000000003M763.89 364.85V379.65000000000003M848.83 364.85V379.65000000000003M933.77 364.85V379.65000000000003M1018.72 364.85V379.65000000000003M1103.66 364.85V379.65000000000003M1188.60 364.85V379.65000000000003" stroke="#000" stroke-width="2.6" fill="none" stroke-linecap="round"/>
<text transform="translate(142.5 25.4) scale(1.0 1.025)" text-anchor="end" font-size="33"  font-family="'Liberation Sans', sans-serif" stroke="#000" stroke-width="0.5">100</text>
<text transform="translate(142.5 112.5) scale(1.0 1.025)" text-anchor="end" font-size="33"  font-family="'Liberation Sans', sans-serif" stroke="#000" stroke-width="0.5">10</text>
<text transform="translate(142.5 199.7) scale(1.0 1.025)" text-anchor="end" font-size="33"  font-family="'Liberation Sans', sans-serif" stroke="#000" stroke-width="0.5">1</text>
<text transform="translate(142.5 286.8) scale(1.0 1.025)" text-anchor="end" font-size="33"  font-family="'Liberation Sans', sans-serif" stroke="#000" stroke-width="0.5">0.1</text>
<text transform="translate(142.5 374.0) scale(1.0 1.025)" text-anchor="end" font-size="33"  font-family="'Liberation Sans', sans-serif" stroke="#000" stroke-width="0.5">0.01</text>
<text transform="translate(211.8 401.2) scale(1.0 1.075)" text-anchor="middle" font-size="33"  font-family="'Liberation Sans', sans-serif" stroke="#000" stroke-width="0.5">Sc</text>
<text transform="translate(296.7 401.2) scale(1.0 1.075)" text-anchor="middle" font-size="33"  font-family="'Liberation Sans', sans-serif" stroke="#000" stroke-width="0.5">Y</text>
<text transform="translate(381.7 401.2) scale(1.0 1.075)" text-anchor="middle" font-size="33"  font-family="'Liberation Sans', sans-serif" stroke="#000" stroke-width="0.5">La</text>
<text transform="translate(466.6 401.2) scale(1.0 1.075)" text-anchor="middle" font-size="33"  font-family="'Liberation Sans', sans-serif" stroke="#000" stroke-width="0.5">Ce</text>
<text transform="translate(551.5 401.2) scale(1.0 1.075)" text-anchor="middle" font-size="33"  font-family="'Liberation Sans', sans-serif" stroke="#000" stroke-width="0.5">Nd</text>
<text transform="translate(721.4 401.2) scale(1.0 1.075)" text-anchor="middle" font-size="33"  font-family="'Liberation Sans', sans-serif" stroke="#000" stroke-width="0.5">Mg</text>
<text transform="translate(806.4 401.2) scale(1.0 1.075)" text-anchor="middle" font-size="33"  font-family="'Liberation Sans', sans-serif" stroke="#000" stroke-width="0.5">Al</text>
<text transform="translate(891.3 401.2) scale(1.0 1.075)" text-anchor="middle" font-size="33"  font-family="'Liberation Sans', sans-serif" stroke="#000" stroke-width="0.5">Si</text>
<text transform="translate(976.2 401.2) scale(1.0 1.075)" text-anchor="middle" font-size="33"  font-family="'Liberation Sans', sans-serif" stroke="#000" stroke-width="0.5">Ca</text>
<text transform="translate(1061.2 401.2) scale(1.0 1.075)" text-anchor="middle" font-size="33"  font-family="'Liberation Sans', sans-serif" stroke="#000" stroke-width="0.5">Ti</text>
<text transform="translate(1146.1 401.2) scale(1.0 1.075)" text-anchor="middle" font-size="33"  font-family="'Liberation Sans', sans-serif" stroke="#000" stroke-width="0.5">Fe</text>
<text transform="translate(49.5 189.5) rotate(-90) scale(1.0 1.025)" text-anchor="middle" font-size="33" font-weight="bold" font-style="italic" font-family="'Liberation Sans', sans-serif" stroke="#000" stroke-width="0.5">D</text>
<text transform="translate(1168 54) scale(1.0 1.025)" text-anchor="end" font-size="33" font-weight="bold" font-family="'Liberation Sans', sans-serif" stroke="#000" stroke-width="0.5">a)</text>
<rect x="184.85" y="571.50" width="9.46" height="237.90" fill="#49fe18"/>
<rect x="184.85" y="571.50" width="9.46" height="237.90" fill="none" stroke="#000" stroke-width="2.7"/>
<path d="M189.58 570.00V573.00M182.18 570.00H196.98M182.18 573.00H196.98" stroke="#000" stroke-width="2.7" fill="none" stroke-linecap="round"/>
<rect x="194.31" y="567.70" width="9.46" height="241.70" fill="#e9f19b"/>
<clipPath id="b44"><rect x="194.31" y="567.70" width="9.46" height="241.70"/></clipPath>
<path d="M193.31 566.73L204.77 555.27M193.31 583.88L204.77 572.42M193.31 601.04L204.77 589.58M193.31 618.19L204.77 606.73M193.31 635.35L204.77 623.89M193.31 652.50L204.77 641.04M193.31 669.66L204.77 658.20M193.31 686.81L204.77 675.35M193.31 703.97L204.77 692.51M193.31 721.12L204.77 709.66M193.31 738.27L204.77 726.81M193.31 755.43L204.77 743.97M193.31 772.58L204.77 761.12M193.31 789.74L204.77 778.28M193.31 806.89L204.77 795.43M193.31 824.05L204.77 812.59" stroke="#000" stroke-width="2.7" fill="none" clip-path="url(#b44)"/>
<rect x="194.31" y="567.70" width="9.46" height="241.70" fill="none" stroke="#000" stroke-width="2.7"/>
<path d="M199.04 561.40V571.00M191.64 561.40H206.44M191.64 571.00H206.44" stroke="#000" stroke-width="2.7" fill="none" stroke-linecap="round"/>
<rect x="203.77" y="569.70" width="9.46" height="239.70" fill="#99fffc"/>
<clipPath id="b45"><rect x="203.77" y="569.70" width="9.46" height="239.70"/></clipPath>
<path d="M202.77 561.16H214.23M202.77 573.29H214.23M202.77 585.42H214.23M202.77 597.55H214.23M202.77 609.68H214.23M202.77 621.81H214.23M202.77 633.94H214.23M202.77 646.07H214.23M202.77 658.20H214.23M202.77 670.33H214.23M202.77 682.46H214.23M202.77 694.59H214.23M202.77 706.72H214.23M202.77 718.85H214.23M202.77 730.98H214.23M202.77 743.11H214.23M202.77 755.24H214.23M202.77 767.37H214.23M202.77 779.50H214.23M202.77 791.63H214.23M202.77 803.76H214.23M202.77 815.89H214.23" stroke="#000" stroke-width="2.7" fill="none" clip-path="url(#b45)"/>
<rect x="203.77" y="569.70" width="9.46" height="239.70" fill="none" stroke="#000" stroke-width="2.7"/>
<path d="M208.50 567.00V571.70M201.10 567.00H215.90M201.10 571.70H215.90" stroke="#000" stroke-width="2.7" fill="none" stroke-linecap="round"/>
<rect x="213.23" y="565.00" width="9.46" height="244.40" fill="#e176fc"/>
<clipPath id="b46"><rect x="213.23" y="565.00" width="9.46" height="244.40"/></clipPath>
<path d="M212.23 816.79L223.69 828.25M212.23 799.64L223.69 811.10M212.23 782.48L223.69 793.94M212.23 765.33L223.69 776.79M212.23 748.17L223.69 759.63M212.23 731.02L223.69 742.48M212.23 713.87L223.69 725.33M212.23 696.71L223.69 708.17M212.23 679.56L223.69 691.02M212.23 662.40L223.69 673.86M212.23 645.25L223.69 656.71M212.23 628.09L223.69 639.55M212.23 610.94L223.69 622.40M212.23 593.79L223.69 605.25M212.23 576.63L223.69 588.09M212.23 559.48L223.69 570.94M212.23 542.32L223.69 553.78" stroke="#000" stroke-width="2.7" fill="none" clip-path="url(#b46)"/>
<rect x="213.23" y="565.00" width="9.46" height="244.40" fill="none" stroke="#000" stroke-width="2.7"/>
<path d="M217.96 561.40V568.00M210.56 561.40H225.36M210.56 568.00H225.36" stroke="#000" stroke-width="2.7" fill="none" stroke-linecap="round"/>
<rect x="222.69" y="577.00" width="9.46" height="232.40" fill="#818381"/>
<clipPath id="b47"><rect x="222.69" y="577.00" width="9.46" height="232.40"/></clipPath>
<path d="M221.69 813.31L233.15 824.77M221.69 796.15L233.15 807.61M221.69 779.00L233.15 790.46M221.69 761.84L233.15 773.30M221.69 744.69L233.15 756.15M221.69 727.54L233.15 739.00M221.69 710.38L233.15 721.84M221.69 693.23L233.15 704.69M221.69 676.07L233.15 687.53M221.69 658.92L233.15 670.38M221.69 641.76L233.15 653.22M221.69 624.61L233.15 636.07M221.69 607.45L233.15 618.91M221.69 590.30L233.15 601.76M221.69 573.15L233.15 584.61M221.69 555.99L233.15 567.45M221.69 560.99L233.15 549.53M221.69 578.15L233.15 566.69M221.69 595.30L233.15 583.84M221.69 612.45L233.15 600.99M221.69 629.61L233.15 618.15M221.69 646.76L233.15 635.30M221.69 663.92L233.15 652.46M221.69 681.07L233.15 669.61M221.69 698.23L233.15 686.77M221.69 715.38L233.15 703.92M221.69 732.54L233.15 721.08M221.69 749.69L233.15 738.23M221.69 766.84L233.15 755.38M221.69 784.00L233.15 772.54M221.69 801.15L233.15 789.69M221.69 818.31L233.15 806.85M221.69 835.46L233.15 824.00" stroke="#000" stroke-width="2.7" fill="none" clip-path="url(#b47)"/>
<rect x="222.69" y="577.00" width="9.46" height="232.40" fill="none" stroke="#000" stroke-width="2.7"/>
<path d="M227.42 574.30V580.00M220.02 574.30H234.82M220.02 580.00H234.82" stroke="#000" stroke-width="2.7" fill="none" stroke-linecap="round"/>
<rect x="263.26" y="673.00" width="9.46" height="136.40" fill="#49fe18"/>
<rect x="263.26" y="673.00" width="9.46" height="136.40" fill="none" stroke="#000" stroke-width="2.7"/>
<path d="M267.99 672.30V673.50M260.59 672.30H275.39M260.59 673.50H275.39" stroke="#000" stroke-width="2.7" fill="none" stroke-linecap="round"/>
<rect x="272.72" y="686.50" width="9.46" height="122.90" fill="#e9f19b"/>
<clipPath id="b48"><rect x="272.72" y="686.50" width="9.46" height="122.90"/></clipPath>
<path d="M271.72 677.02L283.18 665.56M271.72 694.18L283.18 682.72M271.72 711.33L283.18 699.87M271.72 728.48L283.18 717.02M271.72 745.64L283.18 734.18M271.72 762.79L283.18 751.33M271.72 779.95L283.18 768.49M271.72 797.10L283.18 785.64M271.72 814.26L283.18 802.80M271.72 831.41L283.18 819.95" stroke="#000" stroke-width="2.7" fill="none" clip-path="url(#b48)"/>
<rect x="272.72" y="686.50" width="9.46" height="122.90" fill="none" stroke="#000" stroke-width="2.7"/>
<path d="M277.45 684.70V688.70M270.05 684.70H284.85M270.05 688.70H284.85" stroke="#000" stroke-width="2.7" fill="none" stroke-linecap="round"/>
<rect x="282.18" y="684.70" width="9.46" height="124.70" fill="#99fffc"/>
<clipPath id="b49"><rect x="282.18" y="684.70" width="9.46" height="124.70"/></clipPath>
<path d="M281.18 682.46H292.64M281.18 694.59H292.64M281.18 706.72H292.64M281.18 718.85H292.64M281.18 730.98H292.64M281.18 743.11H292.64M281.18 755.24H292.64M281.18 767.37H292.64M281.18 779.50H292.64M281.18 791.63H292.64M281.18 803.76H292.64M281.18 815.89H292.64" stroke="#000" stroke-width="2.7" fill="none" clip-path="url(#b49)"/>
<rect x="282.18" y="684.70" width="9.46" height="124.70" fill="none" stroke="#000" stroke-width="2.7"/>
<path d="M286.91 682.70V686.70M279.51 682.70H294.31M279.51 686.70H294.31" stroke="#000" stroke-width="2.7" fill="none" stroke-linecap="round"/>
<rect x="291.64" y="688.00" width="9.46" height="121.40" fill="#e176fc"/>
<clipPath id="b50"><rect x="291.64" y="688.00" width="9.46" height="121.40"/></clipPath>
<path d="M290.64 809.43L302.10 820.89M290.64 792.27L302.10 803.73M290.64 775.12L302.10 786.58M290.64 757.97L302.10 769.43M290.64 740.81L302.10 752.27M290.64 723.66L302.10 735.12M290.64 706.50L302.10 717.96M290.64 689.35L302.10 700.81M290.64 672.19L302.10 683.65" stroke="#000" stroke-width="2.7" fill="none" clip-path="url(#b50)"/>
<rect x="291.64" y="688.00" width="9.46" height="121.40" fill="none" stroke="#000" stroke-width="2.7"/>
<path d="M296.37 687.30V689.30M288.97 687.30H303.77M288.97 689.30H303.77" stroke="#000" stroke-width="2.7" fill="none" stroke-linecap="round"/>
<rect x="301.10" y="686.50" width="9.46" height="122.90" fill="#818381"/>
<clipPath id="b51"><rect x="301.10" y="686.50" width="9.46" height="122.90"/></clipPath>
<path d="M300.10 813.31L311.56 824.77M300.10 796.15L311.56 807.61M300.10 779.00L311.56 790.46M300.10 761.84L311.56 773.30M300.10 744.69L311.56 756.15M300.10 727.54L311.56 739.00M300.10 710.38L311.56 721.84M300.10 693.23L311.56 704.69M300.10 676.07L311.56 687.53M300.10 658.92L311.56 670.38M300.10 681.07L311.56 669.61M300.10 698.23L311.56 686.77M300.10 715.38L311.56 703.92M300.10 732.54L311.56 721.08M300.10 749.69L311.56 738.23M300.10 766.84L311.56 755.38M300.10 784.00L311.56 772.54M300.10 801.15L311.56 789.69M300.10 818.31L311.56 806.85M300.10 835.46L311.56 824.00" stroke="#000" stroke-width="2.7" fill="none" clip-path="url(#b51)"/>
<rect x="301.10" y="686.50" width="9.46" height="122.90" fill="none" stroke="#000" stroke-width="2.7"/>
<path d="M305.83 684.30V688.70M298.43 684.30H313.23M298.43 688.70H313.23" stroke="#000" stroke-width="2.7" fill="none" stroke-linecap="round"/>
<rect x="341.67" y="648.50" width="9.46" height="160.90" fill="#49fe18"/>
<rect x="341.67" y="648.50" width="9.46" height="160.90" fill="none" stroke="#000" stroke-width="2.7"/>
<path d="M346.40 648.00V649.00M339.00 648.00H353.80M339.00 649.00H353.80" stroke="#000" stroke-width="2.7" fill="none" stroke-linecap="round"/>
<rect x="351.13" y="685.50" width="9.46" height="123.90" fill="#e9f19b"/>
<clipPath id="b52"><rect x="351.13" y="685.50" width="9.46" height="123.90"/></clipPath>
<path d="M350.13 684.39L361.59 672.93M350.13 701.54L361.59 690.08M350.13 718.69L361.59 707.23M350.13 735.85L361.59 724.39M350.13 753.00L361.59 741.54M350.13 770.16L361.59 758.70M350.13 787.31L361.59 775.85M350.13 804.47L361.59 793.01M350.13 821.62L361.59 810.16" stroke="#000" stroke-width="2.7" fill="none" clip-path="url(#b52)"/>
<rect x="351.13" y="685.50" width="9.46" height="123.90" fill="none" stroke="#000" stroke-width="2.7"/>
<path d="M355.86 683.30V688.00M348.46 683.30H363.26M348.46 688.00H363.26" stroke="#000" stroke-width="2.7" fill="none" stroke-linecap="round"/>
<rect x="360.59" y="662.50" width="9.46" height="146.90" fill="#99fffc"/>
<clipPath id="b53"><rect x="360.59" y="662.50" width="9.46" height="146.90"/></clipPath>
<path d="M359.59 658.20H371.05M359.59 670.33H371.05M359.59 682.46H371.05M359.59 694.59H371.05M359.59 706.72H371.05M359.59 718.85H371.05M359.59 730.98H371.05M359.59 743.11H371.05M359.59 755.24H371.05M359.59 767.37H371.05M359.59 779.50H371.05M359.59 791.63H371.05M359.59 803.76H371.05M359.59 815.89H371.05" stroke="#000" stroke-width="2.7" fill="none" clip-path="url(#b53)"/>
<rect x="360.59" y="662.50" width="9.46" height="146.90" fill="none" stroke="#000" stroke-width="2.7"/>
<path d="M365.32 660.30V665.50M357.92 660.30H372.72M357.92 665.50H372.72" stroke="#000" stroke-width="2.7" fill="none" stroke-linecap="round"/>
<rect x="370.05" y="664.50" width="9.46" height="144.90" fill="#e176fc"/>
<clipPath id="b54"><rect x="370.05" y="664.50" width="9.46" height="144.90"/></clipPath>
<path d="M369.05 819.22L380.51 830.68M369.05 802.06L380.51 813.52M369.05 784.91L380.51 796.37M369.05 767.76L380.51 779.22M369.05 750.60L380.51 762.06M369.05 733.45L380.51 744.91M369.05 716.29L380.51 727.75M369.05 699.14L380.51 710.60M369.05 681.98L380.51 693.44M369.05 664.83L380.51 676.29M369.05 647.67L380.51 659.13" stroke="#000" stroke-width="2.7" fill="none" clip-path="url(#b54)"/>
<rect x="370.05" y="664.50" width="9.46" height="144.90" fill="none" stroke="#000" stroke-width="2.7"/>
<path d="M374.78 663.00V666.00M367.38 663.00H382.18M367.38 666.00H382.18" stroke="#000" stroke-width="2.7" fill="none" stroke-linecap="round"/>
<rect x="379.51" y="664.00" width="9.46" height="145.40" fill="#818381"/>
<clipPath id="b55"><rect x="379.51" y="664.00" width="9.46" height="145.40"/></clipPath>
<path d="M378.51 813.31L389.97 824.77M378.51 796.15L389.97 807.61M378.51 779.00L389.97 790.46M378.51 761.84L389.97 773.30M378.51 744.69L389.97 756.15M378.51 727.54L389.97 739.00M378.51 710.38L389.97 721.84M378.51 693.23L389.97 704.69M378.51 676.07L389.97 687.53M378.51 658.92L389.97 670.38M378.51 641.76L389.97 653.22M378.51 663.92L389.97 652.46M378.51 681.07L389.97 669.61M378.51 698.23L389.97 686.77M378.51 715.38L389.97 703.92M378.51 732.54L389.97 721.08M378.51 749.69L389.97 738.23M378.51 766.84L389.97 755.38M378.51 784.00L389.97 772.54M378.51 801.15L389.97 789.69M378.51 818.31L389.97 806.85M378.51 835.46L389.97 824.00" stroke="#000" stroke-width="2.7" fill="none" clip-path="url(#b55)"/>
<rect x="379.51" y="664.00" width="9.46" height="145.40" fill="none" stroke="#000" stroke-width="2.7"/>
<path d="M384.24 663.00V665.00M376.84 663.00H391.64M376.84 665.00H391.64" stroke="#000" stroke-width="2.7" fill="none" stroke-linecap="round"/>
<rect x="420.08" y="643.50" width="9.46" height="165.90" fill="#49fe18"/>
<rect x="420.08" y="643.50" width="9.46" height="165.90" fill="none" stroke="#000" stroke-width="2.7"/>
<path d="M424.81 643.00V644.00M417.41 643.00H432.21M417.41 644.00H432.21" stroke="#000" stroke-width="2.7" fill="none" stroke-linecap="round"/>
<rect x="429.54" y="652.50" width="9.46" height="156.90" fill="#e9f19b"/>
<clipPath id="b56"><rect x="429.54" y="652.50" width="9.46" height="156.90"/></clipPath>
<path d="M428.54 640.29L440.00 628.83M428.54 657.44L440.00 645.98M428.54 674.60L440.00 663.14M428.54 691.75L440.00 680.29M428.54 708.90L440.00 697.44M428.54 726.06L440.00 714.60M428.54 743.21L440.00 731.75M428.54 760.37L440.00 748.91M428.54 777.52L440.00 766.06M428.54 794.68L440.00 783.22M428.54 811.83L440.00 800.37M428.54 828.99L440.00 817.53" stroke="#000" stroke-width="2.7" fill="none" clip-path="url(#b56)"/>
<rect x="429.54" y="652.50" width="9.46" height="156.90" fill="none" stroke="#000" stroke-width="2.7"/>
<path d="M434.27 649.30V656.00M426.87 649.30H441.67M426.87 656.00H441.67" stroke="#000" stroke-width="2.7" fill="none" stroke-linecap="round"/>
<rect x="439.00" y="654.50" width="9.46" height="154.90" fill="#99fffc"/>
<clipPath id="b57"><rect x="439.00" y="654.50" width="9.46" height="154.90"/></clipPath>
<path d="M438.00 646.07H449.46M438.00 658.20H449.46M438.00 670.33H449.46M438.00 682.46H449.46M438.00 694.59H449.46M438.00 706.72H449.46M438.00 718.85H449.46M438.00 730.98H449.46M438.00 743.11H449.46M438.00 755.24H449.46M438.00 767.37H449.46M438.00 779.50H449.46M438.00 791.63H449.46M438.00 803.76H449.46M438.00 815.89H449.46" stroke="#000" stroke-width="2.7" fill="none" clip-path="url(#b57)"/>
<rect x="439.00" y="654.50" width="9.46" height="154.90" fill="none" stroke="#000" stroke-width="2.7"/>
<path d="M443.73 653.00V656.00M436.33 653.00H451.13M436.33 656.00H451.13" stroke="#000" stroke-width="2.7" fill="none" stroke-linecap="round"/>
<rect x="448.46" y="655.00" width="9.46" height="154.40" fill="#e176fc"/>
<clipPath id="b58"><rect x="448.46" y="655.00" width="9.46" height="154.40"/></clipPath>
<path d="M447.46 811.85L458.92 823.31M447.46 794.70L458.92 806.16M447.46 777.55L458.92 789.01M447.46 760.39L458.92 771.85M447.46 743.24L458.92 754.70M447.46 726.08L458.92 737.54M447.46 708.93L458.92 720.39M447.46 691.77L458.92 703.23M447.46 674.62L458.92 686.08M447.46 657.46L458.92 668.92M447.46 640.31L458.92 651.77" stroke="#000" stroke-width="2.7" fill="none" clip-path="url(#b58)"/>
<rect x="448.46" y="655.00" width="9.46" height="154.40" fill="none" stroke="#000" stroke-width="2.7"/>
<path d="M453.19 654.00V656.70M445.79 654.00H460.59M445.79 656.70H460.59" stroke="#000" stroke-width="2.7" fill="none" stroke-linecap="round"/>
<rect x="457.92" y="655.50" width="9.46" height="153.90" fill="#818381"/>
<clipPath id="b59"><rect x="457.92" y="655.50" width="9.46" height="153.90"/></clipPath>
<path d="M456.92 813.31L468.38 824.77M456.92 796.15L468.38 807.61M456.92 779.00L468.38 790.46M456.92 761.84L468.38 773.30M456.92 744.69L468.38 756.15M456.92 727.54L468.38 739.00M456.92 710.38L468.38 721.84M456.92 693.23L468.38 704.69M456.92 676.07L468.38 687.53M456.92 658.92L468.38 670.38M456.92 641.76L468.38 653.22M456.92 646.76L468.38 635.30M456.92 663.92L468.38 652.46M456.92 681.07L468.38 669.61M456.92 698.23L468.38 686.77M456.92 715.38L468.38 703.92M456.92 732.54L468.38 721.08M456.92 749.69L468.38 738.23M456.92 766.84L468.38 755.38M456.92 784.00L468.38 772.54M456.92 801.15L468.38 789.69M456.92 818.31L468.38 806.85M456.92 835.46L468.38 824.00" stroke="#000" stroke-width="2.7" fill="none" clip-path="url(#b59)"/>
<rect x="457.92" y="655.50" width="9.46" height="153.90" fill="none" stroke="#000" stroke-width="2.7"/>
<path d="M462.65 651.70V659.60M455.25 651.70H470.05M455.25 659.60H470.05" stroke="#000" stroke-width="2.7" fill="none" stroke-linecap="round"/>
<rect x="498.48" y="616.30" width="9.46" height="193.10" fill="#49fe18"/>
<rect x="498.48" y="616.30" width="9.46" height="193.10" fill="none" stroke="#000" stroke-width="2.7"/>
<path d="M503.21 615.70V617.00M495.81 615.70H510.61M495.81 617.00H510.61" stroke="#000" stroke-width="2.7" fill="none" stroke-linecap="round"/>
<rect x="507.94" y="612.50" width="9.46" height="196.90" fill="#e9f19b"/>
<clipPath id="b60"><rect x="507.94" y="612.50" width="9.46" height="196.90"/></clipPath>
<path d="M506.94 613.34L518.40 601.88M506.94 630.50L518.40 619.04M506.94 647.65L518.40 636.19M506.94 664.81L518.40 653.35M506.94 681.96L518.40 670.50M506.94 699.11L518.40 687.65M506.94 716.27L518.40 704.81M506.94 733.42L518.40 721.96M506.94 750.58L518.40 739.12M506.94 767.73L518.40 756.27M506.94 784.89L518.40 773.43M506.94 802.04L518.40 790.58M506.94 819.19L518.40 807.73M506.94 836.35L518.40 824.89" stroke="#000" stroke-width="2.7" fill="none" clip-path="url(#b60)"/>
<rect x="507.94" y="612.50" width="9.46" height="196.90" fill="none" stroke="#000" stroke-width="2.7"/>
<path d="M512.67 612.00V613.00M505.27 612.00H520.07M505.27 613.00H520.07" stroke="#000" stroke-width="2.7" fill="none" stroke-linecap="round"/>
<rect x="517.40" y="631.50" width="9.46" height="177.90" fill="#99fffc"/>
<clipPath id="b61"><rect x="517.40" y="631.50" width="9.46" height="177.90"/></clipPath>
<path d="M516.40 621.81H527.86M516.40 633.94H527.86M516.40 646.07H527.86M516.40 658.20H527.86M516.40 670.33H527.86M516.40 682.46H527.86M516.40 694.59H527.86M516.40 706.72H527.86M516.40 718.85H527.86M516.40 730.98H527.86M516.40 743.11H527.86M516.40 755.24H527.86M516.40 767.37H527.86M516.40 779.50H527.86M516.40 791.63H527.86M516.40 803.76H527.86M516.40 815.89H527.86" stroke="#000" stroke-width="2.7" fill="none" clip-path="url(#b61)"/>
<rect x="517.40" y="631.50" width="9.46" height="177.90" fill="none" stroke="#000" stroke-width="2.7"/>
<path d="M522.13 630.50V632.50M514.73 630.50H529.53M514.73 632.50H529.53" stroke="#000" stroke-width="2.7" fill="none" stroke-linecap="round"/>
<rect x="526.86" y="626.00" width="9.46" height="183.40" fill="#e176fc"/>
<clipPath id="b62"><rect x="526.86" y="626.00" width="9.46" height="183.40"/></clipPath>
<path d="M525.86 821.64L537.32 833.10M525.86 804.49L537.32 815.95M525.86 787.34L537.32 798.80M525.86 770.18L537.32 781.64M525.86 753.03L537.32 764.49M525.86 735.87L537.32 747.33M525.86 718.72L537.32 730.18M525.86 701.56L537.32 713.02M525.86 684.41L537.32 695.87M525.86 667.25L537.32 678.71M525.86 650.10L537.32 661.56M525.86 632.95L537.32 644.41M525.86 615.79L537.32 627.25M525.86 598.64L537.32 610.10" stroke="#000" stroke-width="2.7" fill="none" clip-path="url(#b62)"/>
<rect x="526.86" y="626.00" width="9.46" height="183.40" fill="none" stroke="#000" stroke-width="2.7"/>
<path d="M531.59 624.00V628.00M524.19 624.00H538.99M524.19 628.00H538.99" stroke="#000" stroke-width="2.7" fill="none" stroke-linecap="round"/>
<rect x="536.32" y="632.50" width="9.46" height="176.90" fill="#818381"/>
<clipPath id="b63"><rect x="536.32" y="632.50" width="9.46" height="176.90"/></clipPath>
<path d="M535.32 813.31L546.78 824.77M535.32 796.15L546.78 807.61M535.32 779.00L546.78 790.46M535.32 761.84L546.78 773.30M535.32 744.69L546.78 756.15M535.32 727.54L546.78 739.00M535.32 710.38L546.78 721.84M535.32 693.23L546.78 704.69M535.32 676.07L546.78 687.53M535.32 658.92L546.78 670.38M535.32 641.76L546.78 653.22M535.32 624.61L546.78 636.07M535.32 607.45L546.78 618.91M535.32 629.61L546.78 618.15M535.32 646.76L546.78 635.30M535.32 663.92L546.78 652.46M535.32 681.07L546.78 669.61M535.32 698.23L546.78 686.77M535.32 715.38L546.78 703.92M535.32 732.54L546.78 721.08M535.32 749.69L546.78 738.23M535.32 766.84L546.78 755.38M535.32 784.00L546.78 772.54M535.32 801.15L546.78 789.69M535.32 818.31L546.78 806.85M535.32 835.46L546.78 824.00" stroke="#000" stroke-width="2.7" fill="none" clip-path="url(#b63)"/>
<rect x="536.32" y="632.50" width="9.46" height="176.90" fill="none" stroke="#000" stroke-width="2.7"/>
<path d="M541.05 629.60V635.30M533.65 629.60H548.45M533.65 635.30H548.45" stroke="#000" stroke-width="2.7" fill="none" stroke-linecap="round"/>
<rect x="576.89" y="638.70" width="9.46" height="170.70" fill="#49fe18"/>
<rect x="576.89" y="638.70" width="9.46" height="170.70" fill="none" stroke="#000" stroke-width="2.7"/>
<path d="M581.62 638.00V640.00M574.22 638.00H589.02M574.22 640.00H589.02" stroke="#000" stroke-width="2.7" fill="none" stroke-linecap="round"/>
<rect x="586.35" y="651.00" width="9.46" height="158.40" fill="#e9f19b"/>
<clipPath id="b64"><rect x="586.35" y="651.00" width="9.46" height="158.40"/></clipPath>
<path d="M585.35 637.86L596.81 626.40M585.35 655.02L596.81 643.56M585.35 672.17L596.81 660.71M585.35 689.32L596.81 677.86M585.35 706.48L596.81 695.02M585.35 723.63L596.81 712.17M585.35 740.79L596.81 729.33M585.35 757.94L596.81 746.48M585.35 775.10L596.81 763.64M585.35 792.25L596.81 780.79M585.35 809.40L596.81 797.94M585.35 826.56L596.81 815.10" stroke="#000" stroke-width="2.7" fill="none" clip-path="url(#b64)"/>
<rect x="586.35" y="651.00" width="9.46" height="158.40" fill="none" stroke="#000" stroke-width="2.7"/>
<path d="M591.08 648.70V653.30M583.68 648.70H598.48M583.68 653.30H598.48" stroke="#000" stroke-width="2.7" fill="none" stroke-linecap="round"/>
<rect x="595.81" y="650.50" width="9.46" height="158.90" fill="#99fffc"/>
<clipPath id="b65"><rect x="595.81" y="650.50" width="9.46" height="158.90"/></clipPath>
<path d="M594.81 646.07H606.27M594.81 658.20H606.27M594.81 670.33H606.27M594.81 682.46H606.27M594.81 694.59H606.27M594.81 706.72H606.27M594.81 718.85H606.27M594.81 730.98H606.27M594.81 743.11H606.27M594.81 755.24H606.27M594.81 767.37H606.27M594.81 779.50H606.27M594.81 791.63H606.27M594.81 803.76H606.27M594.81 815.89H606.27" stroke="#000" stroke-width="2.7" fill="none" clip-path="url(#b65)"/>
<rect x="595.81" y="650.50" width="9.46" height="158.90" fill="none" stroke="#000" stroke-width="2.7"/>
<path d="M600.54 648.70V652.70M593.14 648.70H607.94M593.14 652.70H607.94" stroke="#000" stroke-width="2.7" fill="none" stroke-linecap="round"/>
<rect x="605.27" y="651.50" width="9.46" height="157.90" fill="#e176fc"/>
<clipPath id="b66"><rect x="605.27" y="651.50" width="9.46" height="157.90"/></clipPath>
<path d="M604.27 814.28L615.73 825.74M604.27 797.13L615.73 808.59M604.27 779.97L615.73 791.43M604.27 762.82L615.73 774.28M604.27 745.66L615.73 757.12M604.27 728.51L615.73 739.97M604.27 711.35L615.73 722.81M604.27 694.20L615.73 705.66M604.27 677.04L615.73 688.50M604.27 659.89L615.73 671.35M604.27 642.74L615.73 654.20M604.27 625.58L615.73 637.04" stroke="#000" stroke-width="2.7" fill="none" clip-path="url(#b66)"/>
<rect x="605.27" y="651.50" width="9.46" height="157.90" fill="none" stroke="#000" stroke-width="2.7"/>
<path d="M610.00 650.00V652.70M602.60 650.00H617.40M602.60 652.70H617.40" stroke="#000" stroke-width="2.7" fill="none" stroke-linecap="round"/>
<rect x="614.73" y="649.50" width="9.46" height="159.90" fill="#818381"/>
<clipPath id="b67"><rect x="614.73" y="649.50" width="9.46" height="159.90"/></clipPath>
<path d="M613.73 813.31L625.19 824.77M613.73 796.15L625.19 807.61M613.73 779.00L625.19 790.46M613.73 761.84L625.19 773.30M613.73 744.69L625.19 756.15M613.73 727.54L625.19 739.00M613.73 710.38L625.19 721.84M613.73 693.23L625.19 704.69M613.73 676.07L625.19 687.53M613.73 658.92L625.19 670.38M613.73 641.76L625.19 653.22M613.73 624.61L625.19 636.07M613.73 646.76L625.19 635.30M613.73 663.92L625.19 652.46M613.73 681.07L625.19 669.61M613.73 698.23L625.19 686.77M613.73 715.38L625.19 703.92M613.73 732.54L625.19 721.08M613.73 749.69L625.19 738.23M613.73 766.84L625.19 755.38M613.73 784.00L625.19 772.54M613.73 801.15L625.19 789.69M613.73 818.31L625.19 806.85M613.73 835.46L625.19 824.00" stroke="#000" stroke-width="2.7" fill="none" clip-path="url(#b67)"/>
<rect x="614.73" y="649.50" width="9.46" height="159.90" fill="none" stroke="#000" stroke-width="2.7"/>
<path d="M619.46 647.30V652.00M612.06 647.30H626.86M612.06 652.00H626.86" stroke="#000" stroke-width="2.7" fill="none" stroke-linecap="round"/>
<rect x="733.71" y="798.70" width="9.46" height="10.70" fill="#49fe18"/>
<rect x="733.71" y="798.70" width="9.46" height="10.70" fill="none" stroke="#000" stroke-width="2.7"/>
<path d="M738.44 789.00V808.50M731.04 789.00H745.84M731.04 808.50H745.84" stroke="#000" stroke-width="2.7" fill="none" stroke-linecap="round"/>
<rect x="743.17" y="801.30" width="9.46" height="8.10" fill="#e9f19b"/>
<clipPath id="b68"><rect x="743.17" y="801.30" width="9.46" height="8.10"/></clipPath>
<path d="M742.17 789.82L753.63 778.36M742.17 806.98L753.63 795.52M742.17 824.13L753.63 812.67" stroke="#000" stroke-width="2.7" fill="none" clip-path="url(#b68)"/>
<rect x="743.17" y="801.30" width="9.46" height="8.10" fill="none" stroke="#000" stroke-width="2.7"/>
<path d="M747.90 789.00V808.50M740.50 789.00H755.30M740.50 808.50H755.30" stroke="#000" stroke-width="2.7" fill="none" stroke-linecap="round"/>
<rect x="752.63" y="799.30" width="9.46" height="10.10" fill="#99fffc"/>
<clipPath id="b69"><rect x="752.63" y="799.30" width="9.46" height="10.10"/></clipPath>
<path d="M751.63 791.63H763.09M751.63 803.76H763.09M751.63 815.89H763.09" stroke="#000" stroke-width="2.7" fill="none" clip-path="url(#b69)"/>
<rect x="752.63" y="799.30" width="9.46" height="10.10" fill="none" stroke="#000" stroke-width="2.7"/>
<path d="M757.36 789.00V808.50M749.96 789.00H764.76M749.96 808.50H764.76" stroke="#000" stroke-width="2.7" fill="none" stroke-linecap="round"/>
<rect x="762.09" y="798.00" width="9.46" height="11.40" fill="#e176fc"/>
<clipPath id="b70"><rect x="762.09" y="798.00" width="9.46" height="11.40"/></clipPath>
<path d="M761.09 816.71L772.55 828.17M761.09 799.55L772.55 811.01M761.09 782.40L772.55 793.86" stroke="#000" stroke-width="2.7" fill="none" clip-path="url(#b70)"/>
<rect x="762.09" y="798.00" width="9.46" height="11.40" fill="none" stroke="#000" stroke-width="2.7"/>
<path d="M766.82 789.00V807.00M759.42 789.00H774.22M759.42 807.00H774.22" stroke="#000" stroke-width="2.7" fill="none" stroke-linecap="round"/>
<rect x="771.55" y="794.00" width="9.46" height="15.40" fill="#818381"/>
<clipPath id="b71"><rect x="771.55" y="794.00" width="9.46" height="15.40"/></clipPath>
<path d="M770.55 813.31L782.01 824.77M770.55 796.15L782.01 807.61M770.55 779.00L782.01 790.46M770.55 784.00L782.01 772.54M770.55 801.15L782.01 789.69M770.55 818.31L782.01 806.85M770.55 835.46L782.01 824.00" stroke="#000" stroke-width="2.7" fill="none" clip-path="url(#b71)"/>
<rect x="771.55" y="794.00" width="9.46" height="15.40" fill="none" stroke="#000" stroke-width="2.7"/>
<path d="M776.28 782.70V806.00M768.88 782.70H783.68M768.88 806.00H783.68" stroke="#000" stroke-width="2.7" fill="none" stroke-linecap="round"/>
<rect x="812.12" y="656.30" width="9.46" height="153.10" fill="#49fe18"/>
<rect x="812.12" y="656.30" width="9.46" height="153.10" fill="none" stroke="#000" stroke-width="2.7"/>
<path d="M816.85 644.70V669.00M809.45 644.70H824.25M809.45 669.00H824.25" stroke="#000" stroke-width="2.7" fill="none" stroke-linecap="round"/>
<rect x="821.58" y="682.00" width="9.46" height="127.40" fill="#e9f19b"/>
<clipPath id="b72"><rect x="821.58" y="682.00" width="9.46" height="127.40"/></clipPath>
<path d="M820.58 677.11L832.04 665.65M820.58 694.26L832.04 682.80M820.58 711.42L832.04 699.96M820.58 728.57L832.04 717.11M820.58 745.73L832.04 734.27M820.58 762.88L832.04 751.42M820.58 780.03L832.04 768.57M820.58 797.19L832.04 785.73M820.58 814.34L832.04 802.88M820.58 831.50L832.04 820.04" stroke="#000" stroke-width="2.7" fill="none" clip-path="url(#b72)"/>
<rect x="821.58" y="682.00" width="9.46" height="127.40" fill="none" stroke="#000" stroke-width="2.7"/>
<path d="M826.31 674.00V692.70M818.91 674.00H833.71M818.91 692.70H833.71" stroke="#000" stroke-width="2.7" fill="none" stroke-linecap="round"/>
<rect x="831.04" y="668.70" width="9.46" height="140.70" fill="#99fffc"/>
<clipPath id="b73"><rect x="831.04" y="668.70" width="9.46" height="140.70"/></clipPath>
<path d="M830.04 658.20H841.50M830.04 670.33H841.50M830.04 682.46H841.50M830.04 694.59H841.50M830.04 706.72H841.50M830.04 718.85H841.50M830.04 730.98H841.50M830.04 743.11H841.50M830.04 755.24H841.50M830.04 767.37H841.50M830.04 779.50H841.50M830.04 791.63H841.50M830.04 803.76H841.50M830.04 815.89H841.50" stroke="#000" stroke-width="2.7" fill="none" clip-path="url(#b73)"/>
<rect x="831.04" y="668.70" width="9.46" height="140.70" fill="none" stroke="#000" stroke-width="2.7"/>
<path d="M835.77 658.00V679.30M828.37 658.00H843.17M828.37 679.30H843.17" stroke="#000" stroke-width="2.7" fill="none" stroke-linecap="round"/>
<rect x="840.50" y="662.70" width="9.46" height="146.70" fill="#e176fc"/>
<clipPath id="b74"><rect x="840.50" y="662.70" width="9.46" height="146.70"/></clipPath>
<path d="M839.50 809.34L850.96 820.80M839.50 792.19L850.96 803.65M839.50 775.03L850.96 786.49M839.50 757.88L850.96 769.34M839.50 740.72L850.96 752.18M839.50 723.57L850.96 735.03M839.50 706.41L850.96 717.87M839.50 689.26L850.96 700.72M839.50 672.11L850.96 683.57M839.50 654.95L850.96 666.41M839.50 637.80L850.96 649.26" stroke="#000" stroke-width="2.7" fill="none" clip-path="url(#b74)"/>
<rect x="840.50" y="662.70" width="9.46" height="146.70" fill="none" stroke="#000" stroke-width="2.7"/>
<path d="M845.23 652.30V673.30M837.83 652.30H852.63M837.83 673.30H852.63" stroke="#000" stroke-width="2.7" fill="none" stroke-linecap="round"/>
<rect x="849.96" y="670.70" width="9.46" height="138.70" fill="#818381"/>
<clipPath id="b75"><rect x="849.96" y="670.70" width="9.46" height="138.70"/></clipPath>
<path d="M848.96 813.31L860.42 824.77M848.96 796.15L860.42 807.61M848.96 779.00L860.42 790.46M848.96 761.84L860.42 773.30M848.96 744.69L860.42 756.15M848.96 727.54L860.42 739.00M848.96 710.38L860.42 721.84M848.96 693.23L860.42 704.69M848.96 676.07L860.42 687.53M848.96 658.92L860.42 670.38M848.96 663.92L860.42 652.46M848.96 681.07L860.42 669.61M848.96 698.23L860.42 686.77M848.96 715.38L860.42 703.92M848.96 732.54L860.42 721.08M848.96 749.69L860.42 738.23M848.96 766.84L860.42 755.38M848.96 784.00L860.42 772.54M848.96 801.15L860.42 789.69M848.96 818.31L860.42 806.85M848.96 835.46L860.42 824.00" stroke="#000" stroke-width="2.7" fill="none" clip-path="url(#b75)"/>
<rect x="849.96" y="670.70" width="9.46" height="138.70" fill="none" stroke="#000" stroke-width="2.7"/>
<path d="M854.69 666.40V675.00M847.29 666.40H862.09M847.29 675.00H862.09" stroke="#000" stroke-width="2.7" fill="none" stroke-linecap="round"/>
<rect x="890.52" y="806.80" width="9.46" height="2.60" fill="#49fe18"/>
<rect x="890.52" y="806.80" width="9.46" height="2.60" fill="none" stroke="#000" stroke-width="2.7"/>
<path d="M895.25 806.30V807.50M887.85 806.30H902.65M887.85 807.50H902.65" stroke="#000" stroke-width="2.7" fill="none" stroke-linecap="round"/>
<rect x="899.98" y="806.80" width="9.46" height="2.60" fill="#e9f19b"/>
<clipPath id="b76"><rect x="899.98" y="806.80" width="9.46" height="2.60"/></clipPath>
<path d="M898.98 804.55L910.44 793.09M898.98 821.71L910.44 810.25" stroke="#000" stroke-width="2.7" fill="none" clip-path="url(#b76)"/>
<rect x="899.98" y="806.80" width="9.46" height="2.60" fill="none" stroke="#000" stroke-width="2.7"/>
<path d="M904.71 806.30V807.50M897.31 806.30H912.11M897.31 807.50H912.11" stroke="#000" stroke-width="2.7" fill="none" stroke-linecap="round"/>
<rect x="909.44" y="806.80" width="9.46" height="2.60" fill="#99fffc"/>
<clipPath id="b77"><rect x="909.44" y="806.80" width="9.46" height="2.60"/></clipPath>
<path d="M908.44 803.76H919.90M908.44 815.89H919.90" stroke="#000" stroke-width="2.7" fill="none" clip-path="url(#b77)"/>
<rect x="909.44" y="806.80" width="9.46" height="2.60" fill="none" stroke="#000" stroke-width="2.7"/>
<path d="M914.17 806.30V807.50M906.77 806.30H921.57M906.77 807.50H921.57" stroke="#000" stroke-width="2.7" fill="none" stroke-linecap="round"/>
<rect x="918.90" y="806.80" width="9.46" height="2.60" fill="#e176fc"/>
<clipPath id="b78"><rect x="918.90" y="806.80" width="9.46" height="2.60"/></clipPath>
<path d="M917.90 819.13L929.36 830.59M917.90 801.98L929.36 813.44M917.90 784.82L929.36 796.28" stroke="#000" stroke-width="2.7" fill="none" clip-path="url(#b78)"/>
<rect x="918.90" y="806.80" width="9.46" height="2.60" fill="none" stroke="#000" stroke-width="2.7"/>
<path d="M923.63 806.30V807.50M916.23 806.30H931.03M916.23 807.50H931.03" stroke="#000" stroke-width="2.7" fill="none" stroke-linecap="round"/>
<rect x="928.36" y="808.00" width="9.46" height="1.40" fill="#818381"/>
<clipPath id="b79"><rect x="928.36" y="808.00" width="9.46" height="1.40"/></clipPath>
<path d="M927.36 813.31L938.82 824.77M927.36 796.15L938.82 807.61M927.36 801.15L938.82 789.69M927.36 818.31L938.82 806.85M927.36 835.46L938.82 824.00" stroke="#000" stroke-width="2.7" fill="none" clip-path="url(#b79)"/>
<rect x="928.36" y="808.00" width="9.46" height="1.40" fill="none" stroke="#000" stroke-width="2.7"/>
<path d="M933.09 807.80V808.50M925.69 807.80H940.49M925.69 808.50H940.49" stroke="#000" stroke-width="2.7" fill="none" stroke-linecap="round"/>
<rect x="968.93" y="736.00" width="9.46" height="73.40" fill="#49fe18"/>
<rect x="968.93" y="736.00" width="9.46" height="73.40" fill="none" stroke="#000" stroke-width="2.7"/>
<path d="M973.66 735.00V737.50M966.26 735.00H981.06M966.26 737.50H981.06" stroke="#000" stroke-width="2.7" fill="none" stroke-linecap="round"/>
<rect x="978.39" y="750.00" width="9.46" height="59.40" fill="#e9f19b"/>
<clipPath id="b80"><rect x="978.39" y="750.00" width="9.46" height="59.40"/></clipPath>
<path d="M977.39 743.30L988.85 731.84M977.39 760.45L988.85 748.99M977.39 777.61L988.85 766.15M977.39 794.76L988.85 783.30M977.39 811.92L988.85 800.46M977.39 829.07L988.85 817.61" stroke="#000" stroke-width="2.7" fill="none" clip-path="url(#b80)"/>
<rect x="978.39" y="750.00" width="9.46" height="59.40" fill="none" stroke="#000" stroke-width="2.7"/>
<path d="M983.12 748.70V752.00M975.72 748.70H990.52M975.72 752.00H990.52" stroke="#000" stroke-width="2.7" fill="none" stroke-linecap="round"/>
<rect x="987.85" y="713.50" width="9.46" height="95.90" fill="#99fffc"/>
<clipPath id="b81"><rect x="987.85" y="713.50" width="9.46" height="95.90"/></clipPath>
<path d="M986.85 706.72H998.31M986.85 718.85H998.31M986.85 730.98H998.31M986.85 743.11H998.31M986.85 755.24H998.31M986.85 767.37H998.31M986.85 779.50H998.31M986.85 791.63H998.31M986.85 803.76H998.31M986.85 815.89H998.31" stroke="#000" stroke-width="2.7" fill="none" clip-path="url(#b81)"/>
<rect x="987.85" y="713.50" width="9.46" height="95.90" fill="none" stroke="#000" stroke-width="2.7"/>
<path d="M992.58 711.00V715.30M985.18 711.00H999.98M985.18 715.30H999.98" stroke="#000" stroke-width="2.7" fill="none" stroke-linecap="round"/>
<rect x="997.31" y="750.00" width="9.46" height="59.40" fill="#e176fc"/>
<clipPath id="b82"><rect x="997.31" y="750.00" width="9.46" height="59.40"/></clipPath>
<path d="M996.31 811.77L1007.77 823.23M996.31 794.61L1007.77 806.07M996.31 777.46L1007.77 788.92M996.31 760.30L1007.77 771.76M996.31 743.15L1007.77 754.61M996.31 725.99L1007.77 737.45" stroke="#000" stroke-width="2.7" fill="none" clip-path="url(#b82)"/>
<rect x="997.31" y="750.00" width="9.46" height="59.40" fill="none" stroke="#000" stroke-width="2.7"/>
<path d="M1002.04 748.00V752.00M994.64 748.00H1009.44M994.64 752.00H1009.44" stroke="#000" stroke-width="2.7" fill="none" stroke-linecap="round"/>
<rect x="1006.77" y="734.00" width="9.46" height="75.40" fill="#818381"/>
<clipPath id="b83"><rect x="1006.77" y="734.00" width="9.46" height="75.40"/></clipPath>
<path d="M1005.77 813.31L1017.23 824.77M1005.77 796.15L1017.23 807.61M1005.77 779.00L1017.23 790.46M1005.77 761.84L1017.23 773.30M1005.77 744.69L1017.23 756.15M1005.77 727.54L1017.23 739.00M1005.77 710.38L1017.23 721.84M1005.77 732.54L1017.23 721.08M1005.77 749.69L1017.23 738.23M1005.77 766.84L1017.23 755.38M1005.77 784.00L1017.23 772.54M1005.77 801.15L1017.23 789.69M1005.77 818.31L1017.23 806.85M1005.77 835.46L1017.23 824.00" stroke="#000" stroke-width="2.7" fill="none" clip-path="url(#b83)"/>
<rect x="1006.77" y="734.00" width="9.46" height="75.40" fill="none" stroke="#000" stroke-width="2.7"/>
<path d="M1011.50 726.00V742.40M1004.10 726.00H1018.90M1004.10 742.40H1018.90" stroke="#000" stroke-width="2.7" fill="none" stroke-linecap="round"/>
<rect x="1047.34" y="725.70" width="9.46" height="83.70" fill="#49fe18"/>
<rect x="1047.34" y="725.70" width="9.46" height="83.70" fill="none" stroke="#000" stroke-width="2.7"/>
<path d="M1052.07 723.70V727.70M1044.67 723.70H1059.47M1044.67 727.70H1059.47" stroke="#000" stroke-width="2.7" fill="none" stroke-linecap="round"/>
<rect x="1056.80" y="733.00" width="9.46" height="76.40" fill="#e9f19b"/>
<clipPath id="b84"><rect x="1056.80" y="733.00" width="9.46" height="76.40"/></clipPath>
<path d="M1055.80 733.51L1067.26 722.05M1055.80 750.66L1067.26 739.20M1055.80 767.82L1067.26 756.36M1055.80 784.97L1067.26 773.51M1055.80 802.13L1067.26 790.67M1055.80 819.28L1067.26 807.82M1055.80 836.44L1067.26 824.98" stroke="#000" stroke-width="2.7" fill="none" clip-path="url(#b84)"/>
<rect x="1056.80" y="733.00" width="9.46" height="76.40" fill="none" stroke="#000" stroke-width="2.7"/>
<path d="M1061.53 732.00V734.00M1054.13 732.00H1068.93M1054.13 734.00H1068.93" stroke="#000" stroke-width="2.7" fill="none" stroke-linecap="round"/>
<rect x="1066.26" y="742.50" width="9.46" height="66.90" fill="#99fffc"/>
<clipPath id="b85"><rect x="1066.26" y="742.50" width="9.46" height="66.90"/></clipPath>
<path d="M1065.26 730.98H1076.72M1065.26 743.11H1076.72M1065.26 755.24H1076.72M1065.26 767.37H1076.72M1065.26 779.50H1076.72M1065.26 791.63H1076.72M1065.26 803.76H1076.72M1065.26 815.89H1076.72" stroke="#000" stroke-width="2.7" fill="none" clip-path="url(#b85)"/>
<rect x="1066.26" y="742.50" width="9.46" height="66.90" fill="none" stroke="#000" stroke-width="2.7"/>
<path d="M1070.99 741.50V743.50M1063.59 741.50H1078.39M1063.59 743.50H1078.39" stroke="#000" stroke-width="2.7" fill="none" stroke-linecap="round"/>
<rect x="1075.72" y="739.00" width="9.46" height="70.40" fill="#e176fc"/>
<clipPath id="b86"><rect x="1075.72" y="739.00" width="9.46" height="70.40"/></clipPath>
<path d="M1074.72 821.56L1086.18 833.02M1074.72 804.40L1086.18 815.86M1074.72 787.25L1086.18 798.71M1074.72 770.09L1086.18 781.55M1074.72 752.94L1086.18 764.40M1074.72 735.78L1086.18 747.24M1074.72 718.63L1086.18 730.09" stroke="#000" stroke-width="2.7" fill="none" clip-path="url(#b86)"/>
<rect x="1075.72" y="739.00" width="9.46" height="70.40" fill="none" stroke="#000" stroke-width="2.7"/>
<path d="M1080.45 736.70V741.30M1073.05 736.70H1087.85M1073.05 741.30H1087.85" stroke="#000" stroke-width="2.7" fill="none" stroke-linecap="round"/>
<rect x="1085.18" y="751.50" width="9.46" height="57.90" fill="#818381"/>
<clipPath id="b87"><rect x="1085.18" y="751.50" width="9.46" height="57.90"/></clipPath>
<path d="M1084.18 813.31L1095.64 824.77M1084.18 796.15L1095.64 807.61M1084.18 779.00L1095.64 790.46M1084.18 761.84L1095.64 773.30M1084.18 744.69L1095.64 756.15M1084.18 727.54L1095.64 739.00M1084.18 749.69L1095.64 738.23M1084.18 766.84L1095.64 755.38M1084.18 784.00L1095.64 772.54M1084.18 801.15L1095.64 789.69M1084.18 818.31L1095.64 806.85M1084.18 835.46L1095.64 824.00" stroke="#000" stroke-width="2.7" fill="none" clip-path="url(#b87)"/>
<rect x="1085.18" y="751.50" width="9.46" height="57.90" fill="none" stroke="#000" stroke-width="2.7"/>
<path d="M1089.91 749.30V753.60M1082.51 749.30H1097.31M1082.51 753.60H1097.31" stroke="#000" stroke-width="2.7" fill="none" stroke-linecap="round"/>
<rect x="1125.75" y="787.50" width="9.46" height="21.90" fill="#49fe18"/>
<rect x="1125.75" y="787.50" width="9.46" height="21.90" fill="none" stroke="#000" stroke-width="2.7"/>
<path d="M1130.48 784.30V790.70M1123.08 784.30H1137.88M1123.08 790.70H1137.88" stroke="#000" stroke-width="2.7" fill="none" stroke-linecap="round"/>
<rect x="1135.21" y="790.00" width="9.46" height="19.40" fill="#e9f19b"/>
<clipPath id="b88"><rect x="1135.21" y="790.00" width="9.46" height="19.40"/></clipPath>
<path d="M1134.21 775.18L1145.67 763.72M1134.21 792.34L1145.67 780.88M1134.21 809.49L1145.67 798.03M1134.21 826.65L1145.67 815.19" stroke="#000" stroke-width="2.7" fill="none" clip-path="url(#b88)"/>
<rect x="1135.21" y="790.00" width="9.46" height="19.40" fill="none" stroke="#000" stroke-width="2.7"/>
<path d="M1139.94 786.70V792.00M1132.54 786.70H1147.34M1132.54 792.00H1147.34" stroke="#000" stroke-width="2.7" fill="none" stroke-linecap="round"/>
<rect x="1144.67" y="787.00" width="9.46" height="22.40" fill="#99fffc"/>
<clipPath id="b89"><rect x="1144.67" y="787.00" width="9.46" height="22.40"/></clipPath>
<path d="M1143.67 779.50H1155.13M1143.67 791.63H1155.13M1143.67 803.76H1155.13M1143.67 815.89H1155.13" stroke="#000" stroke-width="2.7" fill="none" clip-path="url(#b89)"/>
<rect x="1144.67" y="787.00" width="9.46" height="22.40" fill="none" stroke="#000" stroke-width="2.7"/>
<path d="M1149.40 784.70V789.30M1142.00 784.70H1156.80M1142.00 789.30H1156.80" stroke="#000" stroke-width="2.7" fill="none" stroke-linecap="round"/>
<rect x="1154.13" y="784.00" width="9.46" height="25.40" fill="#e176fc"/>
<clipPath id="b90"><rect x="1154.13" y="784.00" width="9.46" height="25.40"/></clipPath>
<path d="M1153.13 814.19L1164.59 825.65M1153.13 797.04L1164.59 808.50M1153.13 779.88L1164.59 791.34M1153.13 762.73L1164.59 774.19" stroke="#000" stroke-width="2.7" fill="none" clip-path="url(#b90)"/>
<rect x="1154.13" y="784.00" width="9.46" height="25.40" fill="none" stroke="#000" stroke-width="2.7"/>
<path d="M1158.86 780.70V788.00M1151.46 780.70H1166.26M1151.46 788.00H1166.26" stroke="#000" stroke-width="2.7" fill="none" stroke-linecap="round"/>
<rect x="1163.59" y="780.70" width="9.46" height="28.70" fill="#818381"/>
<clipPath id="b91"><rect x="1163.59" y="780.70" width="9.46" height="28.70"/></clipPath>
<path d="M1162.59 813.31L1174.05 824.77M1162.59 796.15L1174.05 807.61M1162.59 779.00L1174.05 790.46M1162.59 761.84L1174.05 773.30M1162.59 766.84L1174.05 755.38M1162.59 784.00L1174.05 772.54M1162.59 801.15L1174.05 789.69M1162.59 818.31L1174.05 806.85M1162.59 835.46L1174.05 824.00" stroke="#000" stroke-width="2.7" fill="none" clip-path="url(#b91)"/>
<rect x="1163.59" y="780.70" width="9.46" height="28.70" fill="none" stroke="#000" stroke-width="2.7"/>
<path d="M1168.32 773.60V788.30M1160.92 773.60H1175.72M1160.92 788.30H1175.72" stroke="#000" stroke-width="2.7" fill="none" stroke-linecap="round"/>
<rect x="169.3" y="460.65" width="1019.3" height="348.75" fill="none" stroke="#000" stroke-width="2.7"/>
<path d="M154.5 460.65H169.3M161.1 504.24H169.3M154.5 547.84H169.3M161.1 591.43H169.3M154.5 635.02H169.3M161.1 678.62H169.3M154.5 722.21H169.3M161.1 765.81H169.3M154.5 809.40H169.3M169.30 809.4V823.6999999999999M247.71 809.4V823.6999999999999M326.12 809.4V823.6999999999999M404.52 809.4V823.6999999999999M482.93 809.4V823.6999999999999M561.34 809.4V823.6999999999999M639.75 809.4V823.6999999999999M718.15 809.4V823.6999999999999M796.56 809.4V823.6999999999999M874.97 809.4V823.6999999999999M953.38 809.4V823.6999999999999M1031.78 809.4V823.6999999999999M1110.19 809.4V823.6999999999999M1188.60 809.4V823.6999999999999" stroke="#000" stroke-width="2.6" fill="none" stroke-linecap="round"/>
<text transform="translate(142.5 469.8) scale(1.0 1.025)" text-anchor="end" font-size="33"  font-family="'Liberation Sans', sans-serif" stroke="#000" stroke-width="0.5">100%</text>
<text transform="translate(142.5 556.9) scale(1.0 1.025)" text-anchor="end" font-size="33"  font-family="'Liberation Sans', sans-serif" stroke="#000" stroke-width="0.5">75%</text>
<text transform="translate(142.5 644.1) scale(1.0 1.025)" text-anchor="end" font-size="33"  font-family="'Liberation Sans', sans-serif" stroke="#000" stroke-width="0.5">50%</text>
<text transform="translate(142.5 731.3) scale(1.0 1.025)" text-anchor="end" font-size="33"  font-family="'Liberation Sans', sans-serif" stroke="#000" stroke-width="0.5">25%</text>
<text transform="translate(142.5 818.5) scale(1.0 1.025)" text-anchor="end" font-size="33"  font-family="'Liberation Sans', sans-serif" stroke="#000" stroke-width="0.5">0%</text>
<text transform="translate(208.5 844.7) scale(1.0 1.075)" text-anchor="middle" font-size="33"  font-family="'Liberation Sans', sans-serif" stroke="#000" stroke-width="0.5">Sc</text>
<text transform="translate(286.9 844.7) scale(1.0 1.075)" text-anchor="middle" font-size="33"  font-family="'Liberation Sans', sans-serif" stroke="#000" stroke-width="0.5">Y</text>
<text transform="translate(365.3 844.7) scale(1.0 1.075)" text-anchor="middle" font-size="33"  font-family="'Liberation Sans', sans-serif" stroke="#000" stroke-width="0.5">La</text>
<text transform="translate(443.7 844.7) scale(1.0 1.075)" text-anchor="middle" font-size="33"  font-family="'Liberation Sans', sans-serif" stroke="#000" stroke-width="0.5">Ce</text>
<text transform="translate(522.1 844.7) scale(1.0 1.075)" text-anchor="middle" font-size="33"  font-family="'Liberation Sans', sans-serif" stroke="#000" stroke-width="0.5">Nd</text>
<text transform="translate(604.5 844.7) scale(1.0 1.075)" text-anchor="middle" font-size="33"  font-family="'Liberation Sans', sans-serif" stroke="#000" stroke-width="0.5">Sum</text>
<text transform="translate(757.4 844.7) scale(1.0 1.075)" text-anchor="middle" font-size="33"  font-family="'Liberation Sans', sans-serif" stroke="#000" stroke-width="0.5">Mg</text>
<text transform="translate(835.8 844.7) scale(1.0 1.075)" text-anchor="middle" font-size="33"  font-family="'Liberation Sans', sans-serif" stroke="#000" stroke-width="0.5">Al</text>
<text transform="translate(914.2 844.7) scale(1.0 1.075)" text-anchor="middle" font-size="33"  font-family="'Liberation Sans', sans-serif" stroke="#000" stroke-width="0.5">Si</text>
<text transform="translate(992.6 844.7) scale(1.0 1.075)" text-anchor="middle" font-size="33"  font-family="'Liberation Sans', sans-serif" stroke="#000" stroke-width="0.5">Ca</text>
<text transform="translate(1071.0 844.7) scale(1.0 1.075)" text-anchor="middle" font-size="33"  font-family="'Liberation Sans', sans-serif" stroke="#000" stroke-width="0.5">Ti</text>
<text transform="translate(1149.4 844.7) scale(1.0 1.075)" text-anchor="middle" font-size="33"  font-family="'Liberation Sans', sans-serif" stroke="#000" stroke-width="0.5">Fe</text>
<text transform="translate(28.2 634) rotate(-90) scale(1.0 1.025)" text-anchor="middle" font-size="34.5" font-weight="bold" font-family="'Liberation Sans', sans-serif" stroke="#000" stroke-width="0.5"><tspan font-style="italic">R</tspan>%</text>
<text transform="translate(1168 498.4) scale(1.0 1.025)" text-anchor="end" font-size="33" font-weight="bold" font-family="'Liberation Sans', sans-serif" stroke="#000" stroke-width="0.5">b)</text>
<clipPath id="lc1204_0"><rect x="1206.15" y="102.95" width="52.8" height="25.2"/></clipPath>
<rect x="1206.15" y="102.95" width="52.8" height="25.2" fill="#49fe18"/>
<rect x="1206.15" y="102.95" width="52.8" height="25.2" fill="none" stroke="#000" stroke-width="2.7" stroke-linejoin="round"/>
<text transform="translate(1266.3 123.3) scale(1.0 1.01)" text-anchor="start" font-size="24.6"  font-family="'Liberation Sans', sans-serif" stroke="#000" stroke-width="0.5">Cycle1</text>
<clipPath id="lc1204_1"><rect x="1206.15" y="133.40" width="52.8" height="25.2"/></clipPath>
<rect x="1206.15" y="133.40" width="52.8" height="25.2" fill="#e3ec6c"/>
<path d="M1178.20 163.60L1213.40 128.40M1195.35 163.60L1230.55 128.40M1212.50 163.60L1247.70 128.40M1229.65 163.60L1264.85 128.40M1246.80 163.60L1282.00 128.40M1263.95 163.60L1299.15 128.40" stroke="#000" stroke-width="2.9" fill="none" clip-path="url(#lc1204_1)"/>
<rect x="1206.15" y="133.40" width="52.8" height="25.2" fill="none" stroke="#000" stroke-width="2.7" stroke-linejoin="round"/>
<text transform="translate(1266.3 153.7) scale(1.0 1.01)" text-anchor="start" font-size="24.6"  font-family="'Liberation Sans', sans-serif" stroke="#000" stroke-width="0.5">Cycle 2</text>
<clipPath id="lc1204_2"><rect x="1206.15" y="163.85" width="52.8" height="25.2"/></clipPath>
<rect x="1206.15" y="163.85" width="52.8" height="25.2" fill="#99fffc"/>
<path d="M1206.1499999999999 165.05h52.8M1206.1499999999999 177.18h52.8M1206.1499999999999 189.31h52.8" stroke="#000" stroke-width="2.9" fill="none" clip-path="url(#lc1204_2)"/>
<rect x="1206.15" y="163.85" width="52.8" height="25.2" fill="none" stroke="#000" stroke-width="2.7" stroke-linejoin="round"/>
<text transform="translate(1266.3 184.2) scale(1.0 1.01)" text-anchor="start" font-size="24.6"  font-family="'Liberation Sans', sans-serif" stroke="#000" stroke-width="0.5">Cycle 3</text>
<clipPath id="lc1204_3"><rect x="1206.15" y="194.30" width="52.8" height="25.2"/></clipPath>
<rect x="1206.15" y="194.30" width="52.8" height="25.2" fill="#e176fc"/>
<path d="M1166.85 189.30L1202.05 224.50M1184.00 189.30L1219.20 224.50M1201.15 189.30L1236.35 224.50M1218.30 189.30L1253.50 224.50M1235.45 189.30L1270.65 224.50M1252.60 189.30L1287.80 224.50M1269.75 189.30L1304.95 224.50" stroke="#000" stroke-width="2.9" fill="none" clip-path="url(#lc1204_3)"/>
<rect x="1206.15" y="194.30" width="52.8" height="25.2" fill="none" stroke="#000" stroke-width="2.7" stroke-linejoin="round"/>
<text transform="translate(1266.3 214.6) scale(1.0 1.01)" text-anchor="start" font-size="24.6"  font-family="'Liberation Sans', sans-serif" stroke="#000" stroke-width="0.5">Cycle 4</text>
<clipPath id="lc1204_4"><rect x="1206.15" y="224.75" width="52.8" height="25.2"/></clipPath>
<rect x="1206.15" y="224.75" width="52.8" height="25.2" fill="#818381"/>
<path d="M1166.85 219.75L1202.05 254.95M1184.00 219.75L1219.20 254.95M1201.15 219.75L1236.35 254.95M1218.30 219.75L1253.50 254.95M1235.45 219.75L1270.65 254.95M1252.60 219.75L1287.80 254.95M1269.75 219.75L1304.95 254.95M1176.25 254.95L1211.45 219.75M1193.40 254.95L1228.60 219.75M1210.55 254.95L1245.75 219.75M1227.70 254.95L1262.90 219.75M1244.85 254.95L1280.05 219.75M1262.00 254.95L1297.20 219.75M1279.15 254.95L1314.35 219.75" stroke="#000" stroke-width="2.9" fill="none" clip-path="url(#lc1204_4)"/>
<rect x="1206.15" y="224.75" width="52.8" height="25.2" fill="none" stroke="#000" stroke-width="2.7" stroke-linejoin="round"/>
<text transform="translate(1266.3 245.1) scale(1.0 1.01)" text-anchor="start" font-size="24.6"  font-family="'Liberation Sans', sans-serif" stroke="#000" stroke-width="0.5">Cycle 5</text>
<clipPath id="lc1200_0"><rect x="1202.15" y="553.55" width="52.8" height="25.2"/></clipPath>
<rect x="1202.15" y="553.55" width="52.8" height="25.2" fill="#49fe18"/>
<rect x="1202.15" y="553.55" width="52.8" height="25.2" fill="none" stroke="#000" stroke-width="2.7" stroke-linejoin="round"/>
<text transform="translate(1262.3 573.9) scale(1.0 1.01)" text-anchor="start" font-size="24.6"  font-family="'Liberation Sans', sans-serif" stroke="#000" stroke-width="0.5">Cycle1</text>
<clipPath id="lc1200_1"><rect x="1202.15" y="584.00" width="52.8" height="25.2"/></clipPath>
<rect x="1202.15" y="584.00" width="52.8" height="25.2" fill="#e9f19b"/>
<path d="M1174.20 614.20L1209.40 579.00M1191.35 614.20L1226.55 579.00M1208.50 614.20L1243.70 579.00M1225.65 614.20L1260.85 579.00M1242.80 614.20L1278.00 579.00M1259.95 614.20L1295.15 579.00" stroke="#000" stroke-width="2.9" fill="none" clip-path="url(#lc1200_1)"/>
<rect x="1202.15" y="584.00" width="52.8" height="25.2" fill="none" stroke="#000" stroke-width="2.7" stroke-linejoin="round"/>
<text transform="translate(1262.3 604.4) scale(1.0 1.01)" text-anchor="start" font-size="24.6"  font-family="'Liberation Sans', sans-serif" stroke="#000" stroke-width="0.5">Cycle 2</text>
<clipPath id="lc1200_2"><rect x="1202.15" y="614.45" width="52.8" height="25.2"/></clipPath>
<rect x="1202.15" y="614.45" width="52.8" height="25.2" fill="#99fffc"/>
<path d="M1202.1499999999999 615.65h52.8M1202.1499999999999 627.78h52.8M1202.1499999999999 639.91h52.8" stroke="#000" stroke-width="2.9" fill="none" clip-path="url(#lc1200_2)"/>
<rect x="1202.15" y="614.45" width="52.8" height="25.2" fill="none" stroke="#000" stroke-width="2.7" stroke-linejoin="round"/>
<text transform="translate(1262.3 634.8) scale(1.0 1.01)" text-anchor="start" font-size="24.6"  font-family="'Liberation Sans', sans-serif" stroke="#000" stroke-width="0.5">Cycle 3</text>
<clipPath id="lc1200_3"><rect x="1202.15" y="644.90" width="52.8" height="25.2"/></clipPath>
<rect x="1202.15" y="644.90" width="52.8" height="25.2" fill="#e176fc"/>
<path d="M1162.85 639.90L1198.05 675.10M1180.00 639.90L1215.20 675.10M1197.15 639.90L1232.35 675.10M1214.30 639.90L1249.50 675.10M1231.45 639.90L1266.65 675.10M1248.60 639.90L1283.80 675.10M1265.75 639.90L1300.95 675.10" stroke="#000" stroke-width="2.9" fill="none" clip-path="url(#lc1200_3)"/>
<rect x="1202.15" y="644.90" width="52.8" height="25.2" fill="none" stroke="#000" stroke-width="2.7" stroke-linejoin="round"/>
<text transform="translate(1262.3 665.3) scale(1.0 1.01)" text-anchor="start" font-size="24.6"  font-family="'Liberation Sans', sans-serif" stroke="#000" stroke-width="0.5">Cycle 4</text>
<clipPath id="lc1200_4"><rect x="1202.15" y="675.35" width="52.8" height="25.2"/></clipPath>
<rect x="1202.15" y="675.35" width="52.8" height="25.2" fill="#818381"/>
<path d="M1162.85 670.35L1198.05 705.55M1180.00 670.35L1215.20 705.55M1197.15 670.35L1232.35 705.55M1214.30 670.35L1249.50 705.55M1231.45 670.35L1266.65 705.55M1248.60 670.35L1283.80 705.55M1265.75 670.35L1300.95 705.55M1172.25 705.55L1207.45 670.35M1189.40 705.55L1224.60 670.35M1206.55 705.55L1241.75 670.35M1223.70 705.55L1258.90 670.35M1240.85 705.55L1276.05 670.35M1258.00 705.55L1293.20 670.35M1275.15 705.55L1310.35 670.35" stroke="#000" stroke-width="2.9" fill="none" clip-path="url(#lc1200_4)"/>
<rect x="1202.15" y="675.35" width="52.8" height="25.2" fill="none" stroke="#000" stroke-width="2.7" stroke-linejoin="round"/>
<text transform="translate(1262.3 695.7) scale(1.0 1.01)" text-anchor="start" font-size="24.6"  font-family="'Liberation Sans', sans-serif" stroke="#000" stroke-width="0.5">Cycle 5</text>
</svg>
</body></html>
